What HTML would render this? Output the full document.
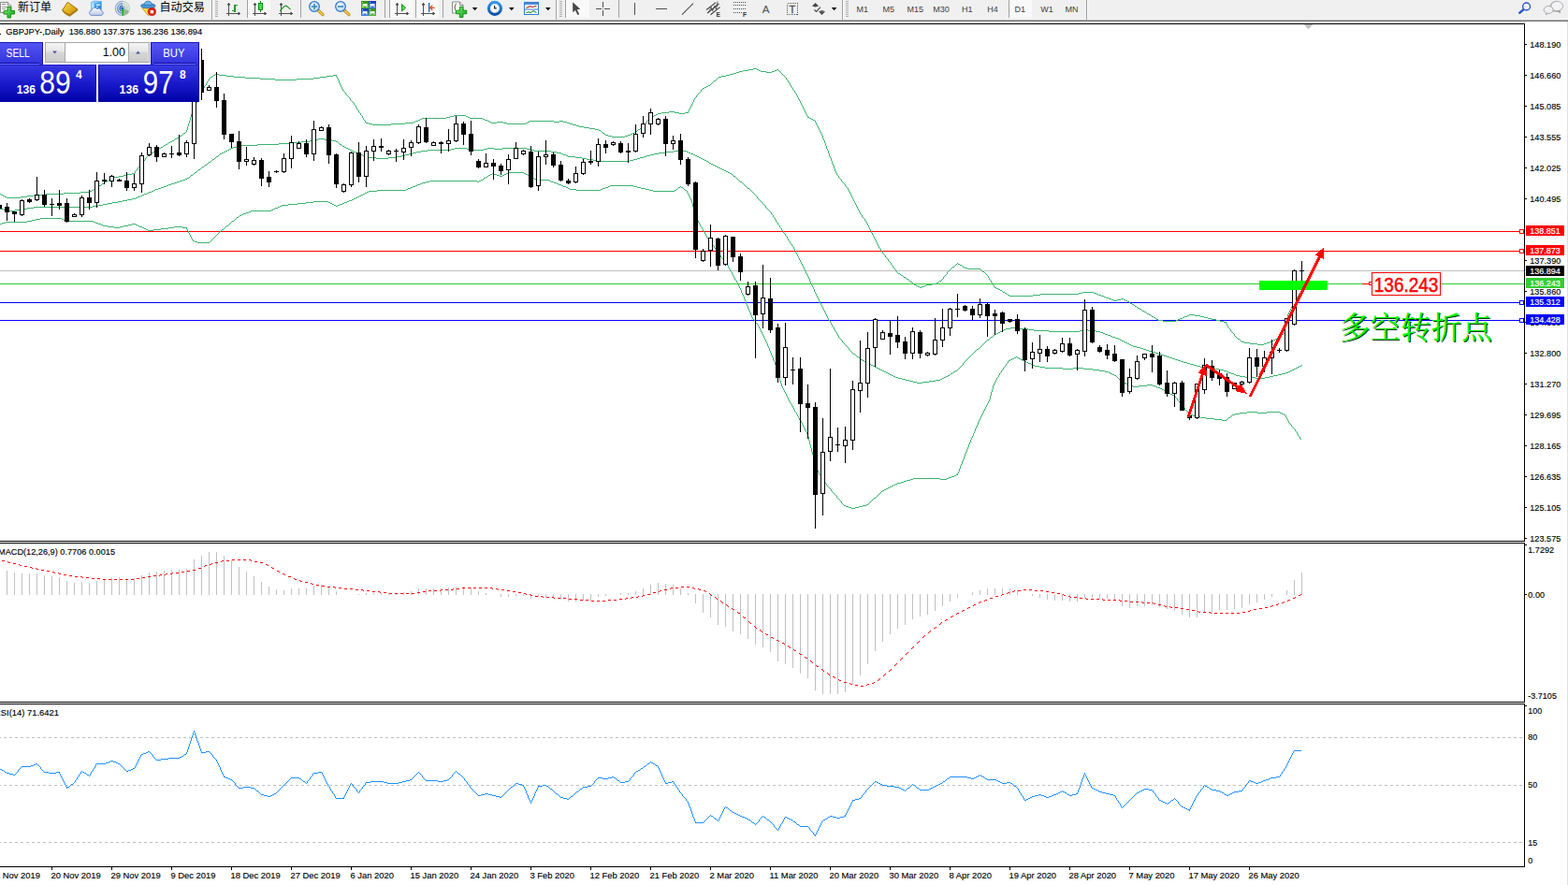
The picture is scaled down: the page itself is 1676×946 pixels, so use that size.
<!DOCTYPE html>
<html><head><meta charset="utf-8"><title>GBPJPY Daily</title>
<style>html,body{margin:0;padding:0;background:#fff;overflow:hidden}svg{display:block}</style></head>
<body>
<svg width="1676" height="946" viewBox="0 0 1676 946" font-family="'Liberation Sans', sans-serif">
<defs>
<linearGradient id="gTab" x1="0" y1="0" x2="0" y2="1"><stop offset="0" stop-color="#5656f6"/><stop offset="1" stop-color="#3232da"/></linearGradient>
<linearGradient id="gBig" x1="0" y1="0" x2="0" y2="1"><stop offset="0" stop-color="#3a3ae2"/><stop offset="0.5" stop-color="#1a1acc"/><stop offset="1" stop-color="#0000a6"/></linearGradient>
<linearGradient id="gBtn" x1="0" y1="0" x2="0" y2="1"><stop offset="0" stop-color="#f4f4f4"/><stop offset="0.45" stop-color="#e6e6e6"/><stop offset="0.5" stop-color="#d6d6d6"/><stop offset="1" stop-color="#cccccc"/></linearGradient>
<clipPath id="cMain"><rect x="0" y="26" width="1629" height="552"/></clipPath>
<clipPath id="cMacd"><rect x="0" y="581" width="1629" height="169"/></clipPath>
<clipPath id="cRsi"><rect x="0" y="753" width="1629" height="173"/></clipPath>
</defs>
<rect x="0" y="0" width="1676" height="946" fill="#fff"/>
<g shape-rendering="crispEdges">
<g clip-path="url(#cMain)">
<rect x="0" y="247" width="1629" height="1" fill="#ff0000"/>
<rect x="0" y="268" width="1629" height="1" fill="#ff0000"/>
<rect x="0" y="289" width="1629" height="1" fill="#c0c0c0"/>
<rect x="0" y="303" width="1629" height="1" fill="#32cd32"/>
<rect x="0" y="323" width="1629" height="1" fill="#0000ff"/>
<rect x="0" y="342" width="1629" height="1" fill="#0000ff"/>
<path d="M0 207.5h1M1 208.5h2M3 209.5h2M5 210.5h2M7 211.5h15M22 210.5h7M29 209.5h7M36 208.5h13M49 207.5h19M68 206.5h18M86 205.5h10M96 204.5h2M98 203.5h2M100 202.5h1M101 201.5h2M103 200.5h1M104 199.5h2M106 198.5h2M108 197.5h1M109 196.5h2M111 195.5h1M112 194.5h2M114 193.5h2M116 192.5h1M117 191.5h2M119 190.5h3M122 189.5h5M127 188.5h5M132 187.5h4M136 186.5h5M141 185.5h3M144.5 183v2M145 182.5h1M146 181.5h1M147.5 179v2M148 178.5h1M149 177.5h1M150.5 175v2M151 174.5h1M152 173.5h1M153 172.5h1M154 171.5h1M155.5 169v2M156 168.5h1M157 167.5h1M158 166.5h1M159 165.5h1M160 164.5h2M162 163.5h2M164 162.5h1M165 161.5h2M167 160.5h1M168 159.5h2M170 158.5h2M172 157.5h2M174 156.5h1M175 155.5h2M177 154.5h2M179 153.5h1M180 152.5h2M182 151.5h2M184 150.5h2M186 149.5h1M187 148.5h2M189 147.5h2M191 146.5h1M192 145.5h2M194 144.5h1M195 143.5h1M196 142.5h2M198 141.5h1M199.5 139v2M200.5 135v4M201.5 132v3M202.5 129v3M203.5 125v4M204.5 122v3M205.5 119v3M206.5 117v2M207.5 114v3M208.5 112v2M209.5 110v2M210.5 107v3M211.5 105v2M212.5 102v3M213.5 100v2M214.5 98v2M215.5 96v2M216 95.5h1M217 94.5h1M218.5 92v2M219 91.5h1M220.5 89v2M221.5 87v2M222 86.5h1M223.5 84v2M224 83.5h1M225 82.5h2M227 81.5h1M228 80.5h2M230 79.5h4M234 80.5h8M242 81.5h8M250 82.5h12M262 83.5h16M278 84.5h16M294 85.5h23M317 84.5h18M335 83.5h7M342 82.5h7M349 81.5h7M356 80.5h4M359 81.5h1M360.5 82v2M361.5 84v2M362.5 86v3M363.5 89v2M364.5 91v2M365.5 93v2M366.5 95v2M367 97.5h1M368 98.5h1M369.5 99v2M370 101.5h1M371 102.5h1M372 103.5h1M373 104.5h1M374.5 105v2M375 107.5h1M376 108.5h1M377 109.5h1M378.5 110v2M379 112.5h1M380.5 113v2M381.5 115v2M382 117.5h1M383.5 118v2M384 120.5h1M385.5 121v2M386 123.5h1M387.5 124v2M388.5 126v2M389 128.5h1M390.5 129v2M391 131.5h3M394 132.5h4M398 133.5h20M418 132.5h15M433 131.5h9M442 130.5h2M444 129.5h3M447 128.5h2M449 127.5h2M451 126.5h26M477 125.5h4M481 124.5h4M485 123.5h13M498 124.5h2M500 125.5h2M502 126.5h14M516 127.5h2M518 128.5h3M521 129.5h2M523 130.5h2M525 131.5h6M531 130.5h7M538 131.5h4M542 132.5h20M562 131.5h2M564 130.5h2M566 129.5h26M592 130.5h6M598 129.5h4M602 130.5h4M606 131.5h3M609 132.5h3M612 133.5h4M616 134.5h3M619 135.5h5M624 136.5h6M630 137.5h6M636 138.5h4M640 139.5h2M642 140.5h1M643 141.5h1M644 142.5h2M646 143.5h1M647 144.5h3M650 145.5h4M654 146.5h14M668 145.5h3M671 144.5h3M674 143.5h2M676 142.5h2M678 141.5h2M680 140.5h1M681 139.5h1M682 138.5h2M684 137.5h1M685 136.5h1M686 135.5h1M687 134.5h1M688 133.5h1M689 132.5h1M690 131.5h1M691.5 129v2M692 128.5h1M693 127.5h1M694 126.5h1M695 125.5h2M697 124.5h2M699 123.5h2M701 122.5h2M703 121.5h4M707 120.5h8M715 119.5h6M721 120.5h5M726 121.5h6M732 120.5h4M735 119.5h1M736.5 117v2M737.5 115v2M738.5 113v2M739.5 111v2M740.5 109v2M741.5 107v2M742.5 105v2M743 104.5h1M744.5 102v2M745 101.5h1M746 100.5h1M747 99.5h1M748 98.5h1M749.5 96v2M750 95.5h1M751 94.5h2M753 93.5h2M755 92.5h2M757 91.5h2M759 90.5h1M760 89.5h1M761 88.5h1M762 87.5h1M763 86.5h2M765 85.5h1M766 84.5h1M767 83.5h1M768 82.5h3M771 81.5h5M776 80.5h4M780 79.5h4M784 78.5h3M787 77.5h3M790 76.5h4M794 75.5h6M800 74.5h5M805 73.5h4M809 74.5h2M811 75.5h2M813 76.5h6M819 77.5h6M825 76.5h3M828 75.5h2M830 74.5h2M832 75.5h1M833 76.5h1M834 77.5h1M835 78.5h1M836 79.5h1M837 80.5h1M838 81.5h1M839 82.5h1M840.5 83v2M841 85.5h1M842.5 86v2M843 88.5h1M844.5 89v2M845.5 91v2M846 93.5h1M847.5 94v2M848 96.5h1M849.5 97v2M850 99.5h1M851.5 100v2M852.5 102v2M853.5 104v2M854.5 106v2M855.5 108v2M856.5 110v2M857.5 112v2M858.5 114v2M859.5 116v2M860.5 118v2M861.5 120v2M862.5 122v2M863.5 124v2M864 125.5h1M865 126.5h2M867 127.5h2M869 128.5h2M871.5 129v2M872.5 131v2M873.5 133v2M874.5 135v2M875.5 137v2M876.5 139v2M877.5 141v2M878.5 143v2M879.5 145v3M880.5 148v2M881.5 150v3M882.5 153v3M883.5 156v3M884.5 159v2M885.5 161v3M886.5 164v3M887.5 167v2M888.5 169v3M889.5 172v3M890.5 175v2M891.5 177v3M892.5 180v3M893.5 183v2M894.5 185v2M895 187.5h1M896.5 188v2M897 190.5h1M898 191.5h1M899.5 192v2M900 194.5h1M901 195.5h1M902 196.5h1M903.5 197v2M904 199.5h1M905 200.5h1M906.5 201v2M907.5 203v2M908.5 205v2M909.5 207v2M910.5 209v2M911.5 211v2M912.5 213v2M913.5 215v2M914.5 217v2M915.5 219v2M916.5 221v2M917.5 223v2M918.5 225v2M919.5 227v2M920 229.5h1M921.5 230v2M922 232.5h1M923 233.5h1M924.5 234v2M925 236.5h1M926.5 237v2M927.5 239v2M928.5 241v2M929.5 243v2M930.5 245v2M931.5 247v2M932.5 249v2M933.5 251v2M934.5 253v2M935.5 255v2M936.5 257v2M937.5 259v2M938.5 261v2M939.5 263v2M940 265.5h1M941.5 266v2M942 268.5h1M943.5 269v2M944 271.5h1M945 272.5h1M946.5 273v2M947 275.5h1M948 276.5h1M949.5 277v2M950 279.5h1M951 280.5h1M952.5 281v2M953 283.5h1M954.5 284v2M955 286.5h1M956 287.5h1M957.5 288v2M958 290.5h1M959 291.5h1M960 292.5h2M962 293.5h1M963 294.5h2M965 295.5h1M966 296.5h2M968 297.5h1M969 298.5h2M971 299.5h1M972 300.5h1M973 301.5h2M975 302.5h1M976 303.5h1M977 304.5h2M979 305.5h2M981 306.5h2M983 307.5h2M985 306.5h3M988 305.5h2M990 304.5h6M996 303.5h5M1001 302.5h2M1003 301.5h1M1004 300.5h2M1006 299.5h1M1007 298.5h1M1008.5 296v2M1009 295.5h1M1010 294.5h1M1011 293.5h1M1012.5 291v2M1013 290.5h1M1014 289.5h1M1015 288.5h1M1016 287.5h1M1017 286.5h1M1018 285.5h2M1020 284.5h1M1021 283.5h1M1022 282.5h1M1023 281.5h1M1024 282.5h2M1026 283.5h2M1028 284.5h1M1029 285.5h2M1031 286.5h3M1034 287.5h14M1048 288.5h1M1049 289.5h1M1050 290.5h2M1052 291.5h1M1053 292.5h1M1054 293.5h1M1055 294.5h1M1056.5 295v2M1057.5 297v2M1058 299.5h1M1059.5 300v2M1060 302.5h1M1061.5 303v2M1062.5 305v2M1063 307.5h2M1065 308.5h2M1067 309.5h2M1069 310.5h2M1071 311.5h1M1072 312.5h2M1074 313.5h2M1076 314.5h1M1077 315.5h2M1079 316.5h25M1104 315.5h8M1112 314.5h41M1153 313.5h4M1157 312.5h12M1169 313.5h3M1172 314.5h2M1174 315.5h3M1177 316.5h3M1180 317.5h2M1182 318.5h3M1185 319.5h3M1188 320.5h2M1190 321.5h4M1194 320.5h4M1198 319.5h3M1201 320.5h2M1203 321.5h2M1205 322.5h2M1207 323.5h1M1208 324.5h2M1210 325.5h2M1212 326.5h1M1213 327.5h2M1215 328.5h1M1216 329.5h2M1218 330.5h2M1220 331.5h1M1221 332.5h2M1223 333.5h2M1225 334.5h1M1226 335.5h2M1228 336.5h2M1230 337.5h1M1231 338.5h2M1233 339.5h2M1235 340.5h1M1236 341.5h2M1238 342.5h5M1243 343.5h14M1257 342.5h2M1259 341.5h2M1261 340.5h3M1264 339.5h2M1266 338.5h3M1269 337.5h2M1271 336.5h6M1277 337.5h6M1283 338.5h4M1287 339.5h4M1291 340.5h4M1295 341.5h5M1300 342.5h4M1304 343.5h4M1308 344.5h3M1310 345.5h1M1311.5 346v2M1312.5 348v2M1313 350.5h1M1314 351.5h1M1315.5 352v2M1316 354.5h1M1317 355.5h1M1318 356.5h1M1319.5 357v2M1320 359.5h1M1321 360.5h1M1322 361.5h1M1323 362.5h2M1325 363.5h1M1326 364.5h1M1327 365.5h3M1330 366.5h6M1336 367.5h8M1344 368.5h7M1351 367.5h3M1354 366.5h3M1357 365.5h2M1359 364.5h2M1361 363.5h2M1363 362.5h2M1365 361.5h1M1366 360.5h2M1368 359.5h1M1369 358.5h1M1370 357.5h2M1372 356.5h1M1373.5 352v4M1374.5 346v6M1375.5 340v6M1376.5 336v4M1377.5 334v2M1378.5 332v2M1379.5 330v2M1380.5 328v2M1381.5 326v2M1382.5 324v2M1383.5 322v2M1384.5 320v2M1385 319.5h1M1386.5 317v2M1387 316.5h1M1388.5 314v2M1389 313.5h1M1390.5 311v2M1391 310.5h1" stroke="#3cb371" stroke-width="1" fill="none"/>
<path d="M0 223.5h4M4 224.5h6M10 225.5h6M16 224.5h7M23 223.5h6M29 222.5h7M36 221.5h63M99 220.5h6M105 219.5h5M110 218.5h5M115 217.5h5M120 216.5h6M126 215.5h5M131 214.5h5M136 213.5h5M141 212.5h4M145 211.5h2M147 210.5h3M150 209.5h2M152 208.5h2M154 207.5h3M157 206.5h2M159 205.5h3M162 204.5h2M164 203.5h2M166 202.5h3M169 201.5h3M172 200.5h3M175 199.5h3M178 198.5h2M180 197.5h3M183 196.5h3M186 195.5h3M189 194.5h3M192 193.5h3M195 192.5h3M198 191.5h2M200 190.5h2M202 189.5h1M203 188.5h1M204 187.5h2M206 186.5h1M207 185.5h1M208 184.5h2M210 183.5h1M211 182.5h1M212 181.5h2M214 180.5h1M215 179.5h1M216 178.5h2M218 177.5h1M219 176.5h2M221 175.5h1M222 174.5h1M223 173.5h2M225 172.5h1M226 171.5h1M227 170.5h2M229 169.5h1M230 168.5h1M231 167.5h2M233 166.5h1M234 165.5h1M235 164.5h2M237 163.5h2M239 162.5h2M241 161.5h2M243 160.5h2M245 159.5h2M247 158.5h2M249 157.5h4M253 156.5h4M257 155.5h18M275 154.5h23M298 153.5h12M310 152.5h12M322 151.5h9M331 150.5h5M336 149.5h4M340 148.5h7M347 149.5h8M355 150.5h4M359 151.5h2M361 152.5h1M362 153.5h1M363 154.5h2M365 155.5h1M366 156.5h2M368 157.5h2M370 158.5h2M372 159.5h2M374 160.5h2M376 161.5h2M378 162.5h2M380 163.5h2M382 164.5h3M385 165.5h3M388 166.5h2M390 167.5h3M393 168.5h9M402 169.5h13M415 168.5h9M424 167.5h5M429 166.5h4M433 165.5h4M437 164.5h4M441 163.5h4M445 162.5h5M450 161.5h7M457 160.5h25M482 159.5h4M486 158.5h13M499 159.5h2M501 160.5h16M517 159.5h4M521 158.5h7M528 159.5h9M537 158.5h26M563 159.5h4M567 160.5h4M571 161.5h18M589 162.5h6M595 163.5h5M600 164.5h2M602 165.5h3M605 166.5h2M607 167.5h8M615 168.5h7M622 169.5h5M627 170.5h7M634 171.5h7M641 172.5h32M673 171.5h4M677 170.5h4M681 169.5h3M684 168.5h4M688 167.5h3M691 166.5h4M695 165.5h4M699 164.5h5M704 163.5h8M712 162.5h8M720 161.5h14M734 162.5h2M736 163.5h2M738 164.5h3M741 165.5h2M743 166.5h2M745 167.5h2M747 168.5h2M749 169.5h2M751 170.5h2M753 171.5h2M755 172.5h2M757 173.5h1M758 174.5h2M760 175.5h2M762 176.5h2M764 177.5h2M766 178.5h2M768 179.5h2M770 180.5h2M772 181.5h2M774 182.5h2M776 183.5h2M778 184.5h2M780 185.5h2M782 186.5h1M783 187.5h1M784 188.5h2M786 189.5h1M787 190.5h1M788 191.5h1M789 192.5h1M790 193.5h1M791 194.5h2M793 195.5h1M794 196.5h1M795 197.5h1M796 198.5h1M797 199.5h1M798 200.5h1M799 201.5h2M801 202.5h1M802 203.5h1M803 204.5h1M804 205.5h1M805 206.5h1M806 207.5h1M807 208.5h1M808 209.5h1M809.5 210v2M810 212.5h1M811 213.5h1M812 214.5h1M813 215.5h1M814 216.5h1M815 217.5h1M816 218.5h1M817 219.5h1M818.5 220v2M819 222.5h1M820 223.5h1M821 224.5h1M822 225.5h1M823 226.5h1M824.5 227v2M825 229.5h1M826.5 230v2M827 232.5h1M828.5 233v2M829.5 235v2M830 237.5h1M831.5 238v2M832 240.5h1M833.5 241v2M834 243.5h1M835.5 244v2M836 246.5h1M837.5 247v2M838 249.5h1M839.5 250v2M840 252.5h1M841.5 253v2M842.5 255v2M843 257.5h1M844.5 258v2M845 260.5h1M846.5 261v2M847 263.5h1M848.5 264v2M849.5 266v2M850.5 268v2M851.5 270v2M852.5 272v2M853.5 274v2M854.5 276v2M855.5 278v2M856.5 280v2M857.5 282v2M858.5 284v2M859.5 286v2M860.5 288v2M861.5 290v2M862.5 292v2M863.5 294v2M864.5 296v2M865.5 298v3M866.5 301v2M867.5 303v2M868.5 305v2M869.5 307v2M870.5 309v3M871.5 312v2M872.5 314v2M873.5 316v2M874.5 318v2M875.5 320v2M876.5 322v2M877.5 324v2M878.5 326v2M879.5 328v2M880.5 330v2M881.5 332v2M882.5 334v2M883.5 336v2M884.5 338v2M885.5 340v2M886 342.5h1M887.5 343v2M888.5 345v2M889.5 347v2M890 349.5h1M891.5 350v2M892.5 352v2M893 354.5h1M894.5 355v2M895.5 357v2M896.5 359v2M897 361.5h1M898 362.5h1M899 363.5h1M900.5 364v2M901 366.5h1M902 367.5h1M903 368.5h1M904 369.5h1M905 370.5h1M906 371.5h1M907.5 372v2M908 374.5h1M909 375.5h1M910 376.5h1M911 377.5h1M912 378.5h2M914 379.5h1M915 380.5h1M916 381.5h2M918 382.5h1M919 383.5h1M920 384.5h2M922 385.5h2M924 386.5h2M926 387.5h2M928 388.5h1M929 389.5h2M931 390.5h2M933 391.5h2M935 392.5h2M937 393.5h2M939 394.5h2M941 395.5h2M943 396.5h2M945 397.5h2M947 398.5h2M949 399.5h2M951 400.5h2M953 401.5h2M955 402.5h2M957 403.5h3M960 404.5h4M964 405.5h4M968 406.5h4M972 407.5h4M976 408.5h4M980 409.5h6M986 408.5h7M993 407.5h7M1000 406.5h5M1005 405.5h2M1007 404.5h2M1009 403.5h2M1011 402.5h2M1013 401.5h2M1015 400.5h1M1016 399.5h2M1018 398.5h1M1019 397.5h2M1021 396.5h2M1023 395.5h1M1024 394.5h1M1025 393.5h1M1026 392.5h1M1027 391.5h1M1028 390.5h1M1029.5 388v2M1030 387.5h1M1031 386.5h1M1032 385.5h1M1033 384.5h1M1034 383.5h1M1035 382.5h1M1036 381.5h1M1037 380.5h1M1038 379.5h1M1039 378.5h1M1040 377.5h1M1041 376.5h1M1042 375.5h1M1043 374.5h1M1044 373.5h2M1046 372.5h1M1047 371.5h1M1048 370.5h1M1049 369.5h1M1050 368.5h1M1051 367.5h1M1052 366.5h1M1053 365.5h1M1054 364.5h1M1055 363.5h2M1057 362.5h1M1058 361.5h1M1059 360.5h2M1061 359.5h1M1062 358.5h1M1063 357.5h2M1065 356.5h2M1067 355.5h2M1069 354.5h2M1071 353.5h2M1073 352.5h2M1075 351.5h5M1080 350.5h10M1090 351.5h9M1099 352.5h6M1105 353.5h16M1121 354.5h33M1154 353.5h4M1158 352.5h5M1163 353.5h8M1171 354.5h5M1176 355.5h3M1179 356.5h2M1181 357.5h3M1184 358.5h3M1187 359.5h2M1189 360.5h3M1192 361.5h3M1195 362.5h2M1197 363.5h2M1199 364.5h2M1201 365.5h2M1203 366.5h2M1205 367.5h2M1207 368.5h2M1209 369.5h2M1211 370.5h4M1215 371.5h4M1219 372.5h3M1222 373.5h3M1225 374.5h3M1228 375.5h4M1232 376.5h3M1235 377.5h3M1238 378.5h3M1241 379.5h3M1244 380.5h3M1247 381.5h3M1250 382.5h3M1253 383.5h3M1256 384.5h3M1259 385.5h3M1262 386.5h3M1265 387.5h4M1269 388.5h3M1272 389.5h4M1276 390.5h3M1279 391.5h4M1283 392.5h5M1288 393.5h8M1296 394.5h7M1303 395.5h5M1308 396.5h3M1311 397.5h2M1313 398.5h3M1316 399.5h3M1319 400.5h2M1321 401.5h4M1325 402.5h6M1331 403.5h11M1342 404.5h10M1352 403.5h5M1357 402.5h4M1361 401.5h5M1366 400.5h4M1370 399.5h4M1374 398.5h3M1377 397.5h2M1379 396.5h2M1381 395.5h2M1383 394.5h2M1385 393.5h2M1387 392.5h2M1389 391.5h2M1391 390.5h1" stroke="#3cb371" stroke-width="1" fill="none"/>
<path d="M0 239.5h2M2 238.5h4M6 237.5h23M29 236.5h5M34 235.5h4M38 234.5h5M43 233.5h23M66 234.5h2M68 235.5h2M70 236.5h30M100 237.5h2M102 238.5h3M105 239.5h3M108 240.5h2M110 241.5h5M115 242.5h7M122 243.5h6M128 242.5h4M132 241.5h5M137 240.5h4M141 239.5h4M145 240.5h2M147 241.5h2M149 242.5h3M152 243.5h2M154 244.5h2M156 245.5h2M158 246.5h6M164 245.5h8M172 244.5h8M180 243.5h6M186 242.5h9M195 243.5h5M199 244.5h1M200.5 245v2M201.5 247v2M202.5 249v2M203.5 251v2M204.5 253v2M205.5 255v2M206 257.5h2M208 258.5h3M211 259.5h13M224 258.5h1M225 257.5h1M226 256.5h1M227 255.5h1M228 254.5h1M229 253.5h1M230 252.5h1M231 251.5h1M232 250.5h1M233 249.5h1M234 248.5h1M235 247.5h1M236 246.5h1M237 245.5h2M239 244.5h1M240 243.5h1M241 242.5h1M242 241.5h2M244 240.5h1M245 239.5h1M246 238.5h1M247 237.5h1M248 236.5h2M250 235.5h1M251 234.5h1M252 233.5h1M253 232.5h2M255 231.5h1M256 230.5h2M258 229.5h2M260 228.5h3M263 227.5h3M266 226.5h2M268 225.5h22M290 224.5h2M292 223.5h2M294 222.5h3M297 221.5h2M299 220.5h2M301 219.5h7M308 218.5h10M318 217.5h9M327 216.5h8M335 215.5h16M351 216.5h2M353 217.5h2M355 218.5h2M357 219.5h2M359 220.5h2M361 219.5h2M363 218.5h3M366 217.5h2M368 216.5h3M371 215.5h2M373 214.5h3M376 213.5h2M378 212.5h2M380 211.5h2M382 210.5h2M384 209.5h2M386 208.5h2M388 207.5h2M390 206.5h2M392 205.5h2M394 204.5h9M403 203.5h31M434 202.5h2M436 201.5h3M439 200.5h2M441 199.5h3M444 198.5h2M446 197.5h3M449 196.5h2M451 195.5h4M455 194.5h4M459 193.5h51M510 194.5h2M512 193.5h2M514 192.5h2M516 191.5h1M517 190.5h2M519 189.5h2M521 188.5h1M522 187.5h2M524 186.5h2M526 185.5h2M528 186.5h3M531 187.5h3M534 188.5h3M537 187.5h2M539 186.5h2M541 185.5h2M543 184.5h17M560 185.5h2M562 186.5h2M564 187.5h2M566 188.5h1M567 189.5h2M569 190.5h2M571 191.5h2M573 192.5h14M587 193.5h2M589 194.5h3M592 195.5h3M595 196.5h2M597 197.5h3M600 198.5h2M602 199.5h3M605 200.5h2M607 201.5h2M609 202.5h7M616 203.5h26M642 202.5h2M644 201.5h3M647 200.5h3M650 199.5h2M652 198.5h25M677 199.5h4M681 200.5h4M685 201.5h5M690 202.5h4M694 203.5h4M698 204.5h23M721 203.5h2M723 202.5h1M724 201.5h1M725 200.5h2M727 199.5h1M728 200.5h2M730 201.5h1M731 202.5h1M732 203.5h2M734.5 204v2M735.5 206v2M736.5 208v2M737.5 210v2M738.5 212v2M739.5 214v3M740.5 217v4M741.5 221v3M742.5 224v3M743.5 227v4M744.5 231v3M745.5 234v2M746.5 236v2M747.5 238v2M748.5 240v2M749 242.5h1M750.5 243v2M751.5 245v2M752 247.5h1M753.5 248v2M754.5 250v2M755.5 252v2M756 254.5h1M757.5 255v2M758 257.5h1M759 258.5h1M760.5 259v2M761 261.5h1M762 262.5h1M763.5 263v2M764 265.5h1M765.5 266v2M766 268.5h1M767 269.5h1M768.5 270v2M769 272.5h1M770.5 273v2M771 275.5h1M772 276.5h1M773.5 277v2M774 279.5h1M775 280.5h1M776.5 281v2M777 283.5h1M778.5 284v2M779.5 286v2M780.5 288v2M781 290.5h1M782.5 291v2M783.5 293v2M784.5 295v2M785.5 297v2M786 299.5h1M787.5 300v2M788.5 302v2M789.5 304v2M790.5 306v2M791.5 308v2M792.5 310v3M793.5 313v2M794.5 315v2M795.5 317v3M796.5 320v2M797.5 322v3M798.5 325v2M799.5 327v3M800.5 330v2M801.5 332v2M802.5 334v3M803.5 337v2M804.5 339v2M805 341.5h1M806 342.5h1M807.5 343v2M808 345.5h1M809 346.5h1M810.5 347v2M811.5 349v2M812.5 351v2M813.5 353v2M814.5 355v2M815.5 357v2M816.5 359v2M817.5 361v2M818.5 363v2M819.5 365v2M820.5 367v3M821.5 370v2M822.5 372v3M823.5 375v2M824.5 377v3M825.5 380v2M826.5 382v3M827.5 385v2M828.5 387v3M829.5 390v3M830.5 393v4M831.5 397v3M832.5 400v3M833.5 403v4M834.5 407v3M835.5 410v3M836.5 413v2M837.5 415v2M838.5 417v2M839.5 419v2M840.5 421v2M841.5 423v2M842.5 425v2M843.5 427v2M844.5 429v2M845 431.5h1M846.5 432v2M847.5 434v2M848.5 436v2M849.5 438v2M850 440.5h1M851.5 441v2M852.5 443v2M853.5 445v2M854.5 447v2M855 449.5h1M856.5 450v2M857.5 452v2M858.5 454v2M859.5 456v2M860.5 458v2M861.5 460v2M862.5 462v2M863.5 464v3M864.5 467v4M865.5 471v4M866.5 475v4M867.5 479v4M868.5 483v3M869.5 486v4M870.5 490v4M871.5 494v3M872.5 497v4M873.5 501v2M874.5 503v2M875.5 505v2M876 507.5h1M877.5 508v2M878 510.5h1M879.5 511v2M880.5 513v2M881 515.5h1M882 516.5h1M883.5 517v2M884 519.5h1M885 520.5h1M886 521.5h1M887 522.5h1M888.5 523v2M889 525.5h1M890 526.5h1M891 527.5h1M892 528.5h1M893 529.5h1M894.5 530v2M895 532.5h1M896 533.5h1M897 534.5h1M898 535.5h1M899.5 536v2M900 538.5h1M901 539.5h1M902 540.5h2M904 541.5h3M907 542.5h3M910 543.5h4M914 542.5h4M918 541.5h4M922 540.5h4M926 539.5h2M928 538.5h1M929 537.5h1M930 536.5h1M931 535.5h1M932 534.5h1M933 533.5h1M934 532.5h2M936 531.5h1M937 530.5h1M938 529.5h1M939 528.5h1M940 527.5h1M941 526.5h1M942 525.5h1M943 524.5h2M945 523.5h2M947 522.5h2M949 521.5h2M951 520.5h2M953 519.5h2M955 518.5h2M957 517.5h2M959 516.5h4M963 515.5h3M966 514.5h3M969 513.5h4M973 512.5h3M976 511.5h29M1005 512.5h7M1012 511.5h2M1014 510.5h3M1017 509.5h3M1020 508.5h2M1022 507.5h2M1023 506.5h1M1024.5 504v2M1025.5 501v3M1026.5 498v3M1027.5 496v2M1028.5 493v3M1029.5 491v2M1030.5 488v3M1031.5 485v3M1032.5 483v2M1033.5 480v3M1034.5 478v2M1035.5 475v3M1036.5 473v2M1037.5 470v3M1038.5 468v2M1039.5 466v2M1040.5 463v3M1041.5 461v2M1042.5 458v3M1043.5 456v2M1044.5 454v2M1045.5 451v3M1046.5 449v2M1047.5 447v2M1048.5 445v2M1049.5 443v2M1050.5 441v2M1051.5 439v2M1052.5 437v2M1053.5 435v2M1054.5 433v2M1055.5 431v2M1056.5 429v2M1057.5 427v2M1058.5 423v4M1059.5 419v4M1060.5 416v3M1061.5 412v4M1062.5 410v2M1063.5 408v2M1064.5 406v2M1065.5 404v2M1066 403.5h1M1067.5 401v2M1068.5 399v2M1069 398.5h1M1070.5 396v2M1071 395.5h1M1072.5 393v2M1073 392.5h1M1074 391.5h1M1075.5 389v2M1076 388.5h1M1077.5 386v2M1078 385.5h2M1080 384.5h2M1082 383.5h2M1084 382.5h2M1086 381.5h1M1087 382.5h2M1089 383.5h2M1091 384.5h2M1093 385.5h2M1095 386.5h2M1097 387.5h2M1099 388.5h3M1102 389.5h2M1104 390.5h2M1106 391.5h5M1111 392.5h6M1117 393.5h19M1136 394.5h11M1147 393.5h11M1158 394.5h10M1168 395.5h7M1175 396.5h6M1181 397.5h4M1185 398.5h2M1187 399.5h2M1189 400.5h2M1191 401.5h2M1193 402.5h1M1194 403.5h1M1195 404.5h1M1196 405.5h2M1198 406.5h1M1199 407.5h1M1200 408.5h2M1202 409.5h2M1204 410.5h3M1207 411.5h2M1209 412.5h2M1211 413.5h6M1217 412.5h9M1226 411.5h6M1232 412.5h3M1235 413.5h2M1237 414.5h3M1240 415.5h2M1242 416.5h2M1244 417.5h2M1246 418.5h2M1248 419.5h1M1249 420.5h2M1251 421.5h2M1253 422.5h2M1255 423.5h1M1256 424.5h1M1257 425.5h1M1258.5 426v2M1259 428.5h1M1260 429.5h1M1261 430.5h1M1262 431.5h1M1263.5 432v2M1264 434.5h1M1265 435.5h1M1266.5 436v2M1267 438.5h1M1268 439.5h1M1269 440.5h1M1270 441.5h2M1272 442.5h1M1273 443.5h2M1275 444.5h4M1279 445.5h4M1283 446.5h6M1289 447.5h9M1298 448.5h8M1306 449.5h5M1311 448.5h1M1312 447.5h1M1313 446.5h2M1315 445.5h1M1316 444.5h1M1317 443.5h3M1320 442.5h5M1325 441.5h8M1333 440.5h11M1344 441.5h10M1354 440.5h14M1368 441.5h2M1370 442.5h2M1372 443.5h2M1374.5 444v2M1375.5 446v2M1376.5 448v2M1377.5 450v2M1378 452.5h1M1379 453.5h1M1380.5 454v2M1381 456.5h1M1382 457.5h1M1383 458.5h1M1384.5 459v2M1385 461.5h1M1386.5 462v2M1387.5 464v2M1388 466.5h1M1389.5 467v2M1390 469.5h1" stroke="#3cb371" stroke-width="1" fill="none"/>
<rect x="-1" y="215" width="1" height="11" fill="#000"/>
<rect x="-3" y="219" width="5" height="4" fill="#000"/>
<rect x="7" y="217" width="1" height="19" fill="#000"/>
<rect x="5" y="221" width="5" height="6" fill="#000"/>
<rect x="15" y="226" width="1" height="11" fill="#000"/>
<rect x="13" y="226" width="5" height="3" fill="#000"/>
<rect x="23" y="213" width="1" height="18" fill="#000"/>
<rect x="21" y="214" width="5" height="16" fill="#000"/>
<rect x="22" y="215" width="3" height="14" fill="#fff"/>
<rect x="31" y="212" width="1" height="5" fill="#000"/>
<rect x="29" y="213" width="5" height="3" fill="#000"/>
<rect x="39" y="189" width="1" height="26" fill="#000"/>
<rect x="37" y="208" width="5" height="6" fill="#000"/>
<rect x="38" y="209" width="3" height="4" fill="#fff"/>
<rect x="47" y="203" width="1" height="18" fill="#000"/>
<rect x="45" y="208" width="5" height="11" fill="#000"/>
<rect x="55" y="212" width="1" height="19" fill="#000"/>
<rect x="53" y="218" width="5" height="1" fill="#000"/>
<rect x="63" y="203" width="1" height="21" fill="#000"/>
<rect x="61" y="217" width="5" height="3" fill="#000"/>
<rect x="71" y="212" width="1" height="26" fill="#000"/>
<rect x="69" y="217" width="5" height="20" fill="#000"/>
<rect x="79" y="228" width="1" height="4" fill="#000"/>
<rect x="77" y="229" width="5" height="3" fill="#000"/>
<rect x="78" y="230" width="3" height="1" fill="#fff"/>
<rect x="87" y="209" width="1" height="23" fill="#000"/>
<rect x="85" y="211" width="5" height="19" fill="#000"/>
<rect x="86" y="212" width="3" height="17" fill="#fff"/>
<rect x="95" y="203" width="1" height="21" fill="#000"/>
<rect x="93" y="211" width="5" height="6" fill="#000"/>
<rect x="103" y="184" width="1" height="38" fill="#000"/>
<rect x="101" y="193" width="5" height="24" fill="#000"/>
<rect x="102" y="194" width="3" height="22" fill="#fff"/>
<rect x="111" y="185" width="1" height="12" fill="#000"/>
<rect x="109" y="192" width="5" height="2" fill="#000"/>
<rect x="119" y="187" width="1" height="13" fill="#000"/>
<rect x="117" y="188" width="5" height="6" fill="#000"/>
<rect x="118" y="189" width="3" height="4" fill="#fff"/>
<rect x="127" y="191" width="1" height="3" fill="#000"/>
<rect x="125" y="192" width="5" height="2" fill="#000"/>
<rect x="135" y="184" width="1" height="20" fill="#000"/>
<rect x="133" y="193" width="5" height="8" fill="#000"/>
<rect x="143" y="186" width="1" height="18" fill="#000"/>
<rect x="141" y="196" width="5" height="5" fill="#000"/>
<rect x="142" y="197" width="3" height="3" fill="#fff"/>
<rect x="151" y="163" width="1" height="43" fill="#000"/>
<rect x="149" y="166" width="5" height="31" fill="#000"/>
<rect x="150" y="167" width="3" height="29" fill="#fff"/>
<rect x="159" y="153" width="1" height="14" fill="#000"/>
<rect x="157" y="157" width="5" height="9" fill="#000"/>
<rect x="158" y="158" width="3" height="7" fill="#fff"/>
<rect x="167" y="155" width="1" height="18" fill="#000"/>
<rect x="165" y="157" width="5" height="11" fill="#000"/>
<rect x="175" y="163" width="1" height="5" fill="#000"/>
<rect x="173" y="164" width="5" height="4" fill="#000"/>
<rect x="174" y="165" width="3" height="2" fill="#fff"/>
<rect x="183" y="156" width="1" height="13" fill="#000"/>
<rect x="181" y="164" width="5" height="1" fill="#000"/>
<rect x="191" y="144" width="1" height="23" fill="#000"/>
<rect x="189" y="163" width="5" height="3" fill="#000"/>
<rect x="199" y="150" width="1" height="18" fill="#000"/>
<rect x="197" y="152" width="5" height="13" fill="#000"/>
<rect x="198" y="153" width="3" height="11" fill="#fff"/>
<rect x="207" y="60" width="1" height="110" fill="#000"/>
<rect x="205" y="70" width="5" height="84" fill="#000"/>
<rect x="206" y="71" width="3" height="82" fill="#fff"/>
<rect x="215" y="52" width="1" height="55" fill="#000"/>
<rect x="213" y="64" width="5" height="35" fill="#000"/>
<rect x="223" y="91" width="1" height="6" fill="#000"/>
<rect x="221" y="93" width="5" height="4" fill="#000"/>
<rect x="222" y="94" width="3" height="2" fill="#fff"/>
<rect x="231" y="77" width="1" height="38" fill="#000"/>
<rect x="229" y="93" width="5" height="15" fill="#000"/>
<rect x="239" y="100" width="1" height="49" fill="#000"/>
<rect x="237" y="107" width="5" height="37" fill="#000"/>
<rect x="247" y="143" width="1" height="15" fill="#000"/>
<rect x="245" y="143" width="5" height="9" fill="#000"/>
<rect x="255" y="140" width="1" height="41" fill="#000"/>
<rect x="253" y="151" width="5" height="22" fill="#000"/>
<rect x="263" y="157" width="1" height="20" fill="#000"/>
<rect x="261" y="170" width="5" height="3" fill="#000"/>
<rect x="262" y="171" width="3" height="1" fill="#fff"/>
<rect x="271" y="168" width="1" height="9" fill="#000"/>
<rect x="269" y="171" width="5" height="5" fill="#000"/>
<rect x="270" y="172" width="3" height="3" fill="#fff"/>
<rect x="279" y="169" width="1" height="30" fill="#000"/>
<rect x="277" y="171" width="5" height="20" fill="#000"/>
<rect x="287" y="183" width="1" height="17" fill="#000"/>
<rect x="285" y="189" width="5" height="6" fill="#000"/>
<rect x="295" y="182" width="1" height="3" fill="#000"/>
<rect x="293" y="183" width="5" height="1" fill="#000"/>
<rect x="303" y="164" width="1" height="21" fill="#000"/>
<rect x="301" y="169" width="5" height="15" fill="#000"/>
<rect x="302" y="170" width="3" height="13" fill="#fff"/>
<rect x="311" y="145" width="1" height="35" fill="#000"/>
<rect x="309" y="152" width="5" height="18" fill="#000"/>
<rect x="310" y="153" width="3" height="16" fill="#fff"/>
<rect x="319" y="151" width="1" height="8" fill="#000"/>
<rect x="317" y="153" width="5" height="6" fill="#000"/>
<rect x="318" y="154" width="3" height="4" fill="#fff"/>
<rect x="327" y="149" width="1" height="19" fill="#000"/>
<rect x="325" y="153" width="5" height="12" fill="#000"/>
<rect x="335" y="129" width="1" height="43" fill="#000"/>
<rect x="333" y="138" width="5" height="27" fill="#000"/>
<rect x="334" y="139" width="3" height="25" fill="#fff"/>
<rect x="343" y="135" width="1" height="5" fill="#000"/>
<rect x="341" y="136" width="5" height="4" fill="#000"/>
<rect x="342" y="137" width="3" height="2" fill="#fff"/>
<rect x="351" y="133" width="1" height="42" fill="#000"/>
<rect x="349" y="136" width="5" height="30" fill="#000"/>
<rect x="359" y="164" width="1" height="37" fill="#000"/>
<rect x="357" y="165" width="5" height="32" fill="#000"/>
<rect x="367" y="196" width="1" height="10" fill="#000"/>
<rect x="365" y="197" width="5" height="8" fill="#000"/>
<rect x="366" y="198" width="3" height="6" fill="#fff"/>
<rect x="375" y="162" width="1" height="38" fill="#000"/>
<rect x="373" y="163" width="5" height="35" fill="#000"/>
<rect x="374" y="164" width="3" height="33" fill="#fff"/>
<rect x="383" y="152" width="1" height="43" fill="#000"/>
<rect x="381" y="163" width="5" height="26" fill="#000"/>
<rect x="391" y="156" width="1" height="44" fill="#000"/>
<rect x="389" y="161" width="5" height="28" fill="#000"/>
<rect x="390" y="162" width="3" height="26" fill="#fff"/>
<rect x="399" y="149" width="1" height="23" fill="#000"/>
<rect x="397" y="156" width="5" height="6" fill="#000"/>
<rect x="398" y="157" width="3" height="4" fill="#fff"/>
<rect x="407" y="148" width="1" height="14" fill="#000"/>
<rect x="405" y="156" width="5" height="2" fill="#000"/>
<rect x="415" y="160" width="1" height="6" fill="#000"/>
<rect x="413" y="161" width="5" height="4" fill="#000"/>
<rect x="414" y="162" width="3" height="2" fill="#fff"/>
<rect x="423" y="159" width="1" height="14" fill="#000"/>
<rect x="421" y="161" width="5" height="1" fill="#000"/>
<rect x="431" y="149" width="1" height="22" fill="#000"/>
<rect x="429" y="158" width="5" height="5" fill="#000"/>
<rect x="430" y="159" width="3" height="3" fill="#fff"/>
<rect x="439" y="150" width="1" height="17" fill="#000"/>
<rect x="437" y="152" width="5" height="6" fill="#000"/>
<rect x="438" y="153" width="3" height="4" fill="#fff"/>
<rect x="447" y="133" width="1" height="21" fill="#000"/>
<rect x="445" y="135" width="5" height="18" fill="#000"/>
<rect x="446" y="136" width="3" height="16" fill="#fff"/>
<rect x="455" y="126" width="1" height="27" fill="#000"/>
<rect x="453" y="136" width="5" height="16" fill="#000"/>
<rect x="463" y="151" width="1" height="5" fill="#000"/>
<rect x="461" y="152" width="5" height="4" fill="#000"/>
<rect x="462" y="153" width="3" height="2" fill="#fff"/>
<rect x="471" y="151" width="1" height="13" fill="#000"/>
<rect x="469" y="152" width="5" height="2" fill="#000"/>
<rect x="479" y="138" width="1" height="24" fill="#000"/>
<rect x="477" y="150" width="5" height="4" fill="#000"/>
<rect x="478" y="151" width="3" height="2" fill="#fff"/>
<rect x="487" y="124" width="1" height="28" fill="#000"/>
<rect x="485" y="132" width="5" height="19" fill="#000"/>
<rect x="486" y="133" width="3" height="17" fill="#fff"/>
<rect x="495" y="130" width="1" height="25" fill="#000"/>
<rect x="493" y="132" width="5" height="12" fill="#000"/>
<rect x="503" y="129" width="1" height="37" fill="#000"/>
<rect x="501" y="143" width="5" height="19" fill="#000"/>
<rect x="511" y="170" width="1" height="10" fill="#000"/>
<rect x="509" y="172" width="5" height="7" fill="#000"/>
<rect x="519" y="164" width="1" height="15" fill="#000"/>
<rect x="517" y="174" width="5" height="5" fill="#000"/>
<rect x="518" y="175" width="3" height="3" fill="#fff"/>
<rect x="527" y="170" width="1" height="22" fill="#000"/>
<rect x="525" y="174" width="5" height="4" fill="#000"/>
<rect x="535" y="175" width="1" height="12" fill="#000"/>
<rect x="533" y="177" width="5" height="6" fill="#000"/>
<rect x="543" y="165" width="1" height="32" fill="#000"/>
<rect x="541" y="170" width="5" height="12" fill="#000"/>
<rect x="542" y="171" width="3" height="10" fill="#fff"/>
<rect x="551" y="152" width="1" height="18" fill="#000"/>
<rect x="549" y="158" width="5" height="12" fill="#000"/>
<rect x="550" y="159" width="3" height="10" fill="#fff"/>
<rect x="559" y="160" width="1" height="6" fill="#000"/>
<rect x="557" y="161" width="5" height="4" fill="#000"/>
<rect x="558" y="162" width="3" height="2" fill="#fff"/>
<rect x="567" y="156" width="1" height="45" fill="#000"/>
<rect x="565" y="162" width="5" height="38" fill="#000"/>
<rect x="575" y="162" width="1" height="42" fill="#000"/>
<rect x="573" y="167" width="5" height="32" fill="#000"/>
<rect x="574" y="168" width="3" height="30" fill="#fff"/>
<rect x="583" y="150" width="1" height="26" fill="#000"/>
<rect x="581" y="165" width="5" height="3" fill="#000"/>
<rect x="582" y="166" width="3" height="1" fill="#fff"/>
<rect x="591" y="163" width="1" height="16" fill="#000"/>
<rect x="589" y="165" width="5" height="12" fill="#000"/>
<rect x="599" y="172" width="1" height="22" fill="#000"/>
<rect x="597" y="176" width="5" height="17" fill="#000"/>
<rect x="607" y="191" width="1" height="6" fill="#000"/>
<rect x="605" y="193" width="5" height="3" fill="#000"/>
<rect x="615" y="178" width="1" height="18" fill="#000"/>
<rect x="613" y="185" width="5" height="10" fill="#000"/>
<rect x="614" y="186" width="3" height="8" fill="#fff"/>
<rect x="623" y="170" width="1" height="17" fill="#000"/>
<rect x="621" y="173" width="5" height="13" fill="#000"/>
<rect x="622" y="174" width="3" height="11" fill="#fff"/>
<rect x="631" y="161" width="1" height="15" fill="#000"/>
<rect x="629" y="172" width="5" height="2" fill="#000"/>
<rect x="639" y="148" width="1" height="30" fill="#000"/>
<rect x="637" y="154" width="5" height="19" fill="#000"/>
<rect x="638" y="155" width="3" height="17" fill="#fff"/>
<rect x="647" y="150" width="1" height="14" fill="#000"/>
<rect x="645" y="154" width="5" height="4" fill="#000"/>
<rect x="655" y="151" width="1" height="5" fill="#000"/>
<rect x="653" y="152" width="5" height="3" fill="#000"/>
<rect x="654" y="153" width="3" height="1" fill="#fff"/>
<rect x="663" y="151" width="1" height="13" fill="#000"/>
<rect x="661" y="153" width="5" height="10" fill="#000"/>
<rect x="671" y="153" width="1" height="21" fill="#000"/>
<rect x="669" y="161" width="5" height="2" fill="#000"/>
<rect x="679" y="133" width="1" height="30" fill="#000"/>
<rect x="677" y="143" width="5" height="19" fill="#000"/>
<rect x="678" y="144" width="3" height="17" fill="#fff"/>
<rect x="687" y="124" width="1" height="23" fill="#000"/>
<rect x="685" y="132" width="5" height="11" fill="#000"/>
<rect x="686" y="133" width="3" height="9" fill="#fff"/>
<rect x="695" y="116" width="1" height="28" fill="#000"/>
<rect x="693" y="120" width="5" height="13" fill="#000"/>
<rect x="694" y="121" width="3" height="11" fill="#fff"/>
<rect x="703" y="126" width="1" height="8" fill="#000"/>
<rect x="701" y="127" width="5" height="6" fill="#000"/>
<rect x="702" y="128" width="3" height="4" fill="#fff"/>
<rect x="711" y="124" width="1" height="43" fill="#000"/>
<rect x="709" y="127" width="5" height="27" fill="#000"/>
<rect x="719" y="145" width="1" height="15" fill="#000"/>
<rect x="717" y="150" width="5" height="4" fill="#000"/>
<rect x="718" y="151" width="3" height="2" fill="#fff"/>
<rect x="727" y="143" width="1" height="33" fill="#000"/>
<rect x="725" y="150" width="5" height="21" fill="#000"/>
<rect x="735" y="168" width="1" height="31" fill="#000"/>
<rect x="733" y="170" width="5" height="27" fill="#000"/>
<rect x="743" y="194" width="1" height="82" fill="#000"/>
<rect x="741" y="195" width="5" height="72" fill="#000"/>
<rect x="751" y="266" width="1" height="14" fill="#000"/>
<rect x="749" y="268" width="5" height="11" fill="#000"/>
<rect x="750" y="269" width="3" height="9" fill="#fff"/>
<rect x="759" y="240" width="1" height="45" fill="#000"/>
<rect x="757" y="254" width="5" height="14" fill="#000"/>
<rect x="758" y="255" width="3" height="12" fill="#fff"/>
<rect x="767" y="254" width="1" height="35" fill="#000"/>
<rect x="765" y="255" width="5" height="29" fill="#000"/>
<rect x="775" y="251" width="1" height="33" fill="#000"/>
<rect x="773" y="252" width="5" height="31" fill="#000"/>
<rect x="774" y="253" width="3" height="29" fill="#fff"/>
<rect x="783" y="253" width="1" height="27" fill="#000"/>
<rect x="781" y="253" width="5" height="22" fill="#000"/>
<rect x="791" y="271" width="1" height="29" fill="#000"/>
<rect x="789" y="274" width="5" height="17" fill="#000"/>
<rect x="799" y="301" width="1" height="15" fill="#000"/>
<rect x="797" y="306" width="5" height="9" fill="#000"/>
<rect x="798" y="307" width="3" height="7" fill="#fff"/>
<rect x="807" y="301" width="1" height="82" fill="#000"/>
<rect x="805" y="305" width="5" height="32" fill="#000"/>
<rect x="815" y="283" width="1" height="68" fill="#000"/>
<rect x="813" y="318" width="5" height="18" fill="#000"/>
<rect x="814" y="319" width="3" height="16" fill="#fff"/>
<rect x="823" y="297" width="1" height="59" fill="#000"/>
<rect x="821" y="319" width="5" height="34" fill="#000"/>
<rect x="831" y="346" width="1" height="63" fill="#000"/>
<rect x="829" y="350" width="5" height="54" fill="#000"/>
<rect x="839" y="345" width="1" height="67" fill="#000"/>
<rect x="837" y="371" width="5" height="33" fill="#000"/>
<rect x="838" y="372" width="3" height="31" fill="#fff"/>
<rect x="847" y="382" width="1" height="29" fill="#000"/>
<rect x="845" y="395" width="5" height="1" fill="#000"/>
<rect x="855" y="382" width="1" height="80" fill="#000"/>
<rect x="853" y="394" width="5" height="38" fill="#000"/>
<rect x="863" y="411" width="1" height="58" fill="#000"/>
<rect x="861" y="431" width="5" height="5" fill="#000"/>
<rect x="871" y="430" width="1" height="135" fill="#000"/>
<rect x="869" y="435" width="5" height="94" fill="#000"/>
<rect x="879" y="447" width="1" height="104" fill="#000"/>
<rect x="877" y="483" width="5" height="45" fill="#000"/>
<rect x="878" y="484" width="3" height="43" fill="#fff"/>
<rect x="887" y="394" width="1" height="99" fill="#000"/>
<rect x="885" y="467" width="5" height="16" fill="#000"/>
<rect x="886" y="468" width="3" height="14" fill="#fff"/>
<rect x="895" y="457" width="1" height="26" fill="#000"/>
<rect x="893" y="475" width="5" height="1" fill="#000"/>
<rect x="903" y="456" width="1" height="39" fill="#000"/>
<rect x="901" y="470" width="5" height="7" fill="#000"/>
<rect x="902" y="471" width="3" height="5" fill="#fff"/>
<rect x="911" y="407" width="1" height="74" fill="#000"/>
<rect x="909" y="416" width="5" height="55" fill="#000"/>
<rect x="910" y="417" width="3" height="53" fill="#fff"/>
<rect x="919" y="364" width="1" height="77" fill="#000"/>
<rect x="917" y="409" width="5" height="9" fill="#000"/>
<rect x="918" y="410" width="3" height="7" fill="#fff"/>
<rect x="927" y="355" width="1" height="70" fill="#000"/>
<rect x="925" y="372" width="5" height="38" fill="#000"/>
<rect x="926" y="373" width="3" height="36" fill="#fff"/>
<rect x="935" y="340" width="1" height="52" fill="#000"/>
<rect x="933" y="341" width="5" height="31" fill="#000"/>
<rect x="934" y="342" width="3" height="29" fill="#fff"/>
<rect x="943" y="353" width="1" height="10" fill="#000"/>
<rect x="941" y="355" width="5" height="8" fill="#000"/>
<rect x="942" y="356" width="3" height="6" fill="#fff"/>
<rect x="951" y="342" width="1" height="37" fill="#000"/>
<rect x="949" y="356" width="5" height="4" fill="#000"/>
<rect x="959" y="338" width="1" height="34" fill="#000"/>
<rect x="957" y="358" width="5" height="8" fill="#000"/>
<rect x="967" y="360" width="1" height="24" fill="#000"/>
<rect x="965" y="365" width="5" height="13" fill="#000"/>
<rect x="975" y="350" width="1" height="34" fill="#000"/>
<rect x="973" y="354" width="5" height="24" fill="#000"/>
<rect x="974" y="355" width="3" height="22" fill="#fff"/>
<rect x="983" y="353" width="1" height="30" fill="#000"/>
<rect x="981" y="355" width="5" height="23" fill="#000"/>
<rect x="991" y="376" width="1" height="5" fill="#000"/>
<rect x="989" y="377" width="5" height="3" fill="#000"/>
<rect x="990" y="378" width="3" height="1" fill="#fff"/>
<rect x="999" y="340" width="1" height="40" fill="#000"/>
<rect x="997" y="363" width="5" height="16" fill="#000"/>
<rect x="998" y="364" width="3" height="14" fill="#fff"/>
<rect x="1007" y="330" width="1" height="41" fill="#000"/>
<rect x="1005" y="350" width="5" height="14" fill="#000"/>
<rect x="1006" y="351" width="3" height="12" fill="#fff"/>
<rect x="1015" y="329" width="1" height="30" fill="#000"/>
<rect x="1013" y="330" width="5" height="21" fill="#000"/>
<rect x="1014" y="331" width="3" height="19" fill="#fff"/>
<rect x="1023" y="314" width="1" height="25" fill="#000"/>
<rect x="1021" y="330" width="5" height="1" fill="#000"/>
<rect x="1031" y="326" width="1" height="7" fill="#000"/>
<rect x="1029" y="327" width="5" height="5" fill="#000"/>
<rect x="1039" y="327" width="1" height="15" fill="#000"/>
<rect x="1037" y="330" width="5" height="7" fill="#000"/>
<rect x="1047" y="319" width="1" height="21" fill="#000"/>
<rect x="1045" y="325" width="5" height="12" fill="#000"/>
<rect x="1046" y="326" width="3" height="10" fill="#fff"/>
<rect x="1055" y="324" width="1" height="36" fill="#000"/>
<rect x="1053" y="325" width="5" height="13" fill="#000"/>
<rect x="1063" y="331" width="1" height="27" fill="#000"/>
<rect x="1061" y="335" width="5" height="3" fill="#000"/>
<rect x="1071" y="333" width="1" height="22" fill="#000"/>
<rect x="1069" y="334" width="5" height="12" fill="#000"/>
<rect x="1079" y="341" width="1" height="4" fill="#000"/>
<rect x="1077" y="341" width="5" height="3" fill="#000"/>
<rect x="1087" y="336" width="1" height="21" fill="#000"/>
<rect x="1085" y="341" width="5" height="13" fill="#000"/>
<rect x="1095" y="350" width="1" height="47" fill="#000"/>
<rect x="1093" y="352" width="5" height="33" fill="#000"/>
<rect x="1103" y="366" width="1" height="28" fill="#000"/>
<rect x="1101" y="376" width="5" height="8" fill="#000"/>
<rect x="1102" y="377" width="3" height="6" fill="#fff"/>
<rect x="1111" y="358" width="1" height="29" fill="#000"/>
<rect x="1109" y="373" width="5" height="5" fill="#000"/>
<rect x="1110" y="374" width="3" height="3" fill="#fff"/>
<rect x="1119" y="370" width="1" height="17" fill="#000"/>
<rect x="1117" y="373" width="5" height="8" fill="#000"/>
<rect x="1127" y="373" width="1" height="6" fill="#000"/>
<rect x="1125" y="374" width="5" height="4" fill="#000"/>
<rect x="1126" y="375" width="3" height="2" fill="#fff"/>
<rect x="1135" y="361" width="1" height="16" fill="#000"/>
<rect x="1133" y="367" width="5" height="9" fill="#000"/>
<rect x="1134" y="368" width="3" height="7" fill="#fff"/>
<rect x="1143" y="361" width="1" height="20" fill="#000"/>
<rect x="1141" y="367" width="5" height="13" fill="#000"/>
<rect x="1151" y="373" width="1" height="23" fill="#000"/>
<rect x="1149" y="374" width="5" height="5" fill="#000"/>
<rect x="1150" y="375" width="3" height="3" fill="#fff"/>
<rect x="1159" y="320" width="1" height="61" fill="#000"/>
<rect x="1157" y="331" width="5" height="45" fill="#000"/>
<rect x="1158" y="332" width="3" height="43" fill="#fff"/>
<rect x="1167" y="328" width="1" height="39" fill="#000"/>
<rect x="1165" y="331" width="5" height="35" fill="#000"/>
<rect x="1175" y="369" width="1" height="8" fill="#000"/>
<rect x="1173" y="371" width="5" height="5" fill="#000"/>
<rect x="1183" y="368" width="1" height="16" fill="#000"/>
<rect x="1181" y="374" width="5" height="6" fill="#000"/>
<rect x="1191" y="369" width="1" height="18" fill="#000"/>
<rect x="1189" y="378" width="5" height="8" fill="#000"/>
<rect x="1199" y="384" width="1" height="40" fill="#000"/>
<rect x="1197" y="384" width="5" height="36" fill="#000"/>
<rect x="1207" y="394" width="1" height="27" fill="#000"/>
<rect x="1205" y="403" width="5" height="16" fill="#000"/>
<rect x="1206" y="404" width="3" height="14" fill="#fff"/>
<rect x="1215" y="380" width="1" height="26" fill="#000"/>
<rect x="1213" y="386" width="5" height="19" fill="#000"/>
<rect x="1214" y="387" width="3" height="17" fill="#fff"/>
<rect x="1223" y="378" width="1" height="7" fill="#000"/>
<rect x="1221" y="378" width="5" height="5" fill="#000"/>
<rect x="1222" y="379" width="3" height="3" fill="#fff"/>
<rect x="1231" y="369" width="1" height="29" fill="#000"/>
<rect x="1229" y="378" width="5" height="4" fill="#000"/>
<rect x="1239" y="376" width="1" height="36" fill="#000"/>
<rect x="1237" y="380" width="5" height="31" fill="#000"/>
<rect x="1247" y="396" width="1" height="28" fill="#000"/>
<rect x="1245" y="409" width="5" height="12" fill="#000"/>
<rect x="1255" y="408" width="1" height="27" fill="#000"/>
<rect x="1253" y="409" width="5" height="12" fill="#000"/>
<rect x="1254" y="410" width="3" height="10" fill="#fff"/>
<rect x="1263" y="407" width="1" height="32" fill="#000"/>
<rect x="1261" y="409" width="5" height="30" fill="#000"/>
<rect x="1271" y="444" width="1" height="5" fill="#000"/>
<rect x="1269" y="444" width="5" height="3" fill="#000"/>
<rect x="1279" y="410" width="1" height="38" fill="#000"/>
<rect x="1277" y="410" width="5" height="37" fill="#000"/>
<rect x="1278" y="411" width="3" height="35" fill="#fff"/>
<rect x="1287" y="383" width="1" height="38" fill="#000"/>
<rect x="1285" y="390" width="5" height="27" fill="#000"/>
<rect x="1286" y="391" width="3" height="25" fill="#fff"/>
<rect x="1295" y="385" width="1" height="22" fill="#000"/>
<rect x="1293" y="391" width="5" height="13" fill="#000"/>
<rect x="1303" y="395" width="1" height="17" fill="#000"/>
<rect x="1301" y="399" width="5" height="6" fill="#000"/>
<rect x="1311" y="399" width="1" height="25" fill="#000"/>
<rect x="1309" y="403" width="5" height="16" fill="#000"/>
<rect x="1319" y="409" width="1" height="7" fill="#000"/>
<rect x="1317" y="409" width="5" height="7" fill="#000"/>
<rect x="1318" y="410" width="3" height="5" fill="#fff"/>
<rect x="1327" y="407" width="1" height="7" fill="#000"/>
<rect x="1325" y="408" width="5" height="3" fill="#000"/>
<rect x="1326" y="409" width="3" height="1" fill="#fff"/>
<rect x="1335" y="372" width="1" height="38" fill="#000"/>
<rect x="1333" y="382" width="5" height="27" fill="#000"/>
<rect x="1334" y="383" width="3" height="25" fill="#fff"/>
<rect x="1343" y="373" width="1" height="30" fill="#000"/>
<rect x="1341" y="382" width="5" height="10" fill="#000"/>
<rect x="1351" y="375" width="1" height="23" fill="#000"/>
<rect x="1349" y="382" width="5" height="10" fill="#000"/>
<rect x="1350" y="383" width="3" height="8" fill="#fff"/>
<rect x="1359" y="363" width="1" height="37" fill="#000"/>
<rect x="1357" y="376" width="5" height="7" fill="#000"/>
<rect x="1358" y="377" width="3" height="5" fill="#fff"/>
<rect x="1367" y="372" width="1" height="5" fill="#000"/>
<rect x="1365" y="374" width="5" height="1" fill="#000"/>
<rect x="1375" y="340" width="1" height="36" fill="#000"/>
<rect x="1373" y="340" width="5" height="35" fill="#000"/>
<rect x="1374" y="341" width="3" height="33" fill="#fff"/>
<rect x="1383" y="288" width="1" height="60" fill="#000"/>
<rect x="1381" y="289" width="5" height="58" fill="#000"/>
<rect x="1382" y="290" width="3" height="56" fill="#fff"/>
<rect x="1391" y="279" width="1" height="24" fill="#000"/>
<rect x="1389" y="289" width="5" height="1" fill="#000"/>
</g>
<rect x="1624.5" y="245.5" width="4" height="4" fill="#fff" stroke="#ff0000" stroke-width="1"/>
<rect x="1624.5" y="266.5" width="4" height="4" fill="#fff" stroke="#ff0000" stroke-width="1"/>
<rect x="1624.5" y="321.5" width="4" height="4" fill="#fff" stroke="#0000ff" stroke-width="1"/>
<rect x="1624.5" y="340.5" width="4" height="4" fill="#fff" stroke="#0000ff" stroke-width="1"/>
<rect x="1346" y="300" width="73" height="10" fill="#00ff00"/>
</g>
<g shape-rendering="crispEdges">
<line x1="1270" y1="446" x2="1285.8" y2="398.5" stroke="#ff0000" stroke-width="3"/><polygon points="1289,389 1289.9,402 1280.5,398.8" fill="#ff0000"/>
<line x1="1289" y1="390" x2="1324.8" y2="415.2" stroke="#ff0000" stroke-width="3"/><polygon points="1333,421 1320.3,418.2 1326.1,410" fill="#ff0000"/>
<line x1="1336" y1="424" x2="1411.1" y2="273" stroke="#ff0000" stroke-width="3"/><polygon points="1415.5,264 1414.6,277 1405.7,272.5" fill="#ff0000"/>
</g>
<g shape-rendering="crispEdges">
<rect x="1456" y="303" width="8" height="1" fill="#ff0000"/>
<rect x="1463.5" y="301.5" width="3" height="3" fill="#fff" stroke="#ff0000"/>
<rect x="1466.5" y="291.5" width="73" height="24" fill="#fff" stroke="#ff0000"/>
</g>
<text x="1468.8" y="311.6" font-size="22" fill="#ff0000" textLength="68.6" lengthAdjust="spacingAndGlyphs" stroke="#ff0000" stroke-width="0.5">136.243</text>
<text x="1432.9" y="362.8" font-size="32.6" fill="#003800" textLength="163" lengthAdjust="spacingAndGlyphs" font-family="'Liberation Serif', 'Noto Serif CJK SC', serif">多空转折点</text>
<text x="1431.9" y="361.8" font-size="32.6" fill="#00ff00" textLength="163" lengthAdjust="spacingAndGlyphs" font-family="'Liberation Serif', 'Noto Serif CJK SC', serif">多空转折点</text>
<g shape-rendering="crispEdges">
<rect x="0" y="25" width="1630" height="1" fill="#000"/>
<rect x="1629" y="25" width="1" height="554" fill="#000"/>
<rect x="0" y="578" width="1630" height="1" fill="#000"/>
<rect x="0" y="580" width="1630" height="1" fill="#000"/>
<rect x="1629" y="580" width="1" height="171" fill="#000"/>
<rect x="0" y="750" width="1630" height="1" fill="#000"/>
<rect x="0" y="752" width="1630" height="1" fill="#000"/>
<rect x="1629" y="752" width="1" height="175" fill="#000"/>
<rect x="0" y="926" width="1630" height="1" fill="#000"/>
<rect x="1630" y="47" width="2" height="1" fill="#000"/>
<rect x="1630" y="80" width="2" height="1" fill="#000"/>
<rect x="1630" y="113" width="2" height="1" fill="#000"/>
<rect x="1630" y="146" width="2" height="1" fill="#000"/>
<rect x="1630" y="179" width="2" height="1" fill="#000"/>
<rect x="1630" y="212" width="2" height="1" fill="#000"/>
<rect x="1630" y="278" width="2" height="1" fill="#000"/>
<rect x="1630" y="311" width="2" height="1" fill="#000"/>
<rect x="1630" y="344" width="2" height="1" fill="#000"/>
<rect x="1630" y="377" width="2" height="1" fill="#000"/>
<rect x="1630" y="410" width="2" height="1" fill="#000"/>
<rect x="1630" y="443" width="2" height="1" fill="#000"/>
<rect x="1630" y="476" width="2" height="1" fill="#000"/>
<rect x="1630" y="509" width="2" height="1" fill="#000"/>
<rect x="1630" y="542" width="2" height="1" fill="#000"/>
<rect x="1630" y="575" width="2" height="1" fill="#000"/>
</g>
<text x="1635.3" y="50.8" font-size="9.8" fill="#000" textLength="33" lengthAdjust="spacingAndGlyphs" stroke="#000" stroke-width="0.14">148.190</text>
<text x="1635.3" y="83.8" font-size="9.8" fill="#000" textLength="33" lengthAdjust="spacingAndGlyphs" stroke="#000" stroke-width="0.14">146.660</text>
<text x="1635.3" y="116.8" font-size="9.8" fill="#000" textLength="33" lengthAdjust="spacingAndGlyphs" stroke="#000" stroke-width="0.14">145.085</text>
<text x="1635.3" y="149.8" font-size="9.8" fill="#000" textLength="33" lengthAdjust="spacingAndGlyphs" stroke="#000" stroke-width="0.14">143.555</text>
<text x="1635.3" y="182.8" font-size="9.8" fill="#000" textLength="33" lengthAdjust="spacingAndGlyphs" stroke="#000" stroke-width="0.14">142.025</text>
<text x="1635.3" y="215.8" font-size="9.8" fill="#000" textLength="33" lengthAdjust="spacingAndGlyphs" stroke="#000" stroke-width="0.14">140.495</text>
<text x="1635.3" y="281.8" font-size="9.8" fill="#000" textLength="33" lengthAdjust="spacingAndGlyphs" stroke="#000" stroke-width="0.14">137.390</text>
<text x="1635.3" y="314.8" font-size="9.8" fill="#000" textLength="33" lengthAdjust="spacingAndGlyphs" stroke="#000" stroke-width="0.14">135.860</text>
<text x="1635.3" y="347.8" font-size="9.8" fill="#000" textLength="33" lengthAdjust="spacingAndGlyphs" stroke="#000" stroke-width="0.14">134.330</text>
<text x="1635.3" y="380.8" font-size="9.8" fill="#000" textLength="33" lengthAdjust="spacingAndGlyphs" stroke="#000" stroke-width="0.14">132.800</text>
<text x="1635.3" y="413.8" font-size="9.8" fill="#000" textLength="33" lengthAdjust="spacingAndGlyphs" stroke="#000" stroke-width="0.14">131.270</text>
<text x="1635.3" y="446.8" font-size="9.8" fill="#000" textLength="33" lengthAdjust="spacingAndGlyphs" stroke="#000" stroke-width="0.14">129.695</text>
<text x="1635.3" y="479.8" font-size="9.8" fill="#000" textLength="33" lengthAdjust="spacingAndGlyphs" stroke="#000" stroke-width="0.14">128.165</text>
<text x="1635.3" y="512.8" font-size="9.8" fill="#000" textLength="33" lengthAdjust="spacingAndGlyphs" stroke="#000" stroke-width="0.14">126.635</text>
<text x="1635.3" y="545.8" font-size="9.8" fill="#000" textLength="33" lengthAdjust="spacingAndGlyphs" stroke="#000" stroke-width="0.14">125.105</text>
<text x="1635.3" y="578.8" font-size="9.8" fill="#000" textLength="33" lengthAdjust="spacingAndGlyphs" stroke="#000" stroke-width="0.14">123.575</text>
<g shape-rendering="crispEdges">
<rect x="1631" y="241" width="41" height="11" fill="#ff0000"/>
<rect x="1631" y="262" width="41" height="11" fill="#ff0000"/>
<rect x="1631" y="284" width="41" height="11" fill="#000000"/>
<rect x="1631" y="297" width="41" height="11" fill="#32cd32"/>
<rect x="1631" y="317" width="41" height="11" fill="#0000ff"/>
<rect x="1631" y="336" width="41" height="11" fill="#0000ff"/>
</g>
<text x="1635.3" y="250" font-size="9.8" fill="#fff" textLength="32.6" lengthAdjust="spacingAndGlyphs" stroke="#fff" stroke-width="0.2">138.851</text>
<text x="1635.3" y="271" font-size="9.8" fill="#fff" textLength="32.6" lengthAdjust="spacingAndGlyphs" stroke="#fff" stroke-width="0.2">137.873</text>
<text x="1635.3" y="293" font-size="9.8" fill="#fff" textLength="32.6" lengthAdjust="spacingAndGlyphs" stroke="#fff" stroke-width="0.2">136.894</text>
<text x="1635.3" y="306" font-size="9.8" fill="#fff" textLength="32.6" lengthAdjust="spacingAndGlyphs" stroke="#fff" stroke-width="0.2">136.243</text>
<text x="1635.3" y="326" font-size="9.8" fill="#fff" textLength="32.6" lengthAdjust="spacingAndGlyphs" stroke="#fff" stroke-width="0.2">135.312</text>
<text x="1635.3" y="345" font-size="9.8" fill="#fff" textLength="32.6" lengthAdjust="spacingAndGlyphs" stroke="#fff" stroke-width="0.2">134.428</text>
<polygon points="1393.7,26 1403.3,26 1398.5,31.2" fill="#c0c0c0"/>
<text x="6.2" y="37.3" font-size="9.6" fill="#000" textLength="210" lengthAdjust="spacingAndGlyphs" stroke="#000" stroke-width="0.14">GBPJPY-,Daily&#160;&#160;136.880 137.375 136.236 136.894</text>
<rect x="0" y="36" width="1" height="1" fill="#000"/>
<g shape-rendering="crispEdges">
<rect x="213" y="45" width="2" height="64" fill="#fff"/>
<rect x="0" y="45" width="46" height="24" fill="url(#gTab)"/>
<rect x="45" y="45" width="1" height="24" fill="#1010b8"/>
<rect x="0" y="45" width="46" height="1" fill="#1818c0"/>
<rect x="0" y="67" width="42" height="1" fill="#0c0ca8"/>
<rect x="0" y="68" width="42" height="1" fill="#6c6cf4"/>
<rect x="161" y="45" width="52" height="24" fill="url(#gTab)"/>
<rect x="161" y="45" width="1" height="24" fill="#1010b8"/>
<rect x="161" y="45" width="52" height="1" fill="#1818c0"/>
<rect x="212" y="45" width="1" height="24" fill="#1010b8"/>
<rect x="165" y="67" width="44" height="1" fill="#0c0ca8"/>
<rect x="165" y="68" width="44" height="1" fill="#6c6cf4"/>
<rect x="0" y="69" width="103" height="40" fill="url(#gBig)"/>
<rect x="102" y="69" width="1" height="40" fill="#0808a0"/>
<rect x="105" y="69" width="108" height="40" fill="url(#gBig)"/>
<rect x="105" y="69" width="1" height="40" fill="#0808a0"/>
<rect x="212" y="69" width="1" height="40" fill="#0808a0"/>
<rect x="0" y="69" width="103" height="1" fill="#2020c8"/>
<rect x="105" y="69" width="108" height="1" fill="#2020c8"/>
<rect x="48" y="45" width="112" height="22" fill="#a8a8a8"/>
<rect x="49" y="46" width="110" height="20" fill="#fff"/>
<rect x="49" y="46" width="20" height="20" fill="url(#gBtn)"/>
<rect x="69" y="46" width="1" height="20" fill="#a8a8a8"/>
<rect x="138" y="46" width="20" height="20" fill="url(#gBtn)"/>
<rect x="137" y="46" width="1" height="20" fill="#a8a8a8"/>
<rect x="158" y="46" width="1" height="20" fill="#e8e8e8"/>
</g>
<polygon points="56,54.5 61,54.5 58.5,57.5" fill="#4a5aa8"/>
<polygon points="145,57.5 150,57.5 147.5,54.5" fill="#4a5aa8"/>
<text x="134" y="60" font-size="12.5" fill="#000" text-anchor="end">1.00</text>
<text x="6.6" y="61" font-size="12" fill="#fff" textLength="25.2" lengthAdjust="spacingAndGlyphs">SELL</text>
<text x="174.3" y="61" font-size="12" fill="#fff" textLength="23.3" lengthAdjust="spacingAndGlyphs">BUY</text>
<text x="17.7" y="100.1" font-size="12" fill="#fff" font-weight="bold" textLength="20.3" lengthAdjust="spacingAndGlyphs">136</text>
<text x="42.3" y="100.4" font-size="34.4" fill="#fff" textLength="33.4" lengthAdjust="spacingAndGlyphs">89</text>
<text x="81" y="84" font-size="12" fill="#fff" font-weight="bold">4</text>
<text x="127.6" y="100.1" font-size="12" fill="#fff" font-weight="bold" textLength="20.6" lengthAdjust="spacingAndGlyphs">136</text>
<text x="152.8" y="100.4" font-size="34.4" fill="#fff" textLength="32.8" lengthAdjust="spacingAndGlyphs">97</text>
<text x="192.1" y="84" font-size="12" fill="#fff" font-weight="bold">8</text>
<g shape-rendering="crispEdges" clip-path="url(#cMacd)">
<rect x="7" y="610" width="1" height="26" fill="#c0c0c0"/>
<rect x="15" y="612" width="1" height="24" fill="#c0c0c0"/>
<rect x="23" y="613" width="1" height="23" fill="#c0c0c0"/>
<rect x="31" y="613" width="1" height="23" fill="#c0c0c0"/>
<rect x="39" y="613" width="1" height="23" fill="#c0c0c0"/>
<rect x="47" y="615" width="1" height="21" fill="#c0c0c0"/>
<rect x="55" y="616" width="1" height="20" fill="#c0c0c0"/>
<rect x="63" y="617" width="1" height="19" fill="#c0c0c0"/>
<rect x="71" y="621" width="1" height="15" fill="#c0c0c0"/>
<rect x="79" y="623" width="1" height="13" fill="#c0c0c0"/>
<rect x="87" y="622" width="1" height="14" fill="#c0c0c0"/>
<rect x="95" y="623" width="1" height="13" fill="#c0c0c0"/>
<rect x="103" y="621" width="1" height="15" fill="#c0c0c0"/>
<rect x="111" y="620" width="1" height="16" fill="#c0c0c0"/>
<rect x="119" y="617" width="1" height="19" fill="#c0c0c0"/>
<rect x="127" y="617" width="1" height="19" fill="#c0c0c0"/>
<rect x="135" y="618" width="1" height="18" fill="#c0c0c0"/>
<rect x="143" y="618" width="1" height="18" fill="#c0c0c0"/>
<rect x="151" y="615" width="1" height="21" fill="#c0c0c0"/>
<rect x="159" y="612" width="1" height="24" fill="#c0c0c0"/>
<rect x="167" y="611" width="1" height="25" fill="#c0c0c0"/>
<rect x="175" y="610" width="1" height="26" fill="#c0c0c0"/>
<rect x="183" y="609" width="1" height="27" fill="#c0c0c0"/>
<rect x="191" y="609" width="1" height="27" fill="#c0c0c0"/>
<rect x="199" y="608" width="1" height="28" fill="#c0c0c0"/>
<rect x="207" y="598" width="1" height="38" fill="#c0c0c0"/>
<rect x="215" y="594" width="1" height="42" fill="#c0c0c0"/>
<rect x="223" y="590" width="1" height="46" fill="#c0c0c0"/>
<rect x="231" y="590" width="1" height="46" fill="#c0c0c0"/>
<rect x="239" y="594" width="1" height="42" fill="#c0c0c0"/>
<rect x="247" y="599" width="1" height="37" fill="#c0c0c0"/>
<rect x="255" y="606" width="1" height="30" fill="#c0c0c0"/>
<rect x="263" y="611" width="1" height="25" fill="#c0c0c0"/>
<rect x="271" y="616" width="1" height="20" fill="#c0c0c0"/>
<rect x="279" y="622" width="1" height="14" fill="#c0c0c0"/>
<rect x="287" y="627" width="1" height="9" fill="#c0c0c0"/>
<rect x="295" y="630" width="1" height="6" fill="#c0c0c0"/>
<rect x="303" y="631" width="1" height="5" fill="#c0c0c0"/>
<rect x="311" y="629" width="1" height="7" fill="#c0c0c0"/>
<rect x="319" y="629" width="1" height="7" fill="#c0c0c0"/>
<rect x="327" y="629" width="1" height="7" fill="#c0c0c0"/>
<rect x="335" y="626" width="1" height="10" fill="#c0c0c0"/>
<rect x="343" y="625" width="1" height="11" fill="#c0c0c0"/>
<rect x="351" y="627" width="1" height="9" fill="#c0c0c0"/>
<rect x="359" y="632" width="1" height="4" fill="#c0c0c0"/>
<rect x="383" y="635" width="1" height="1" fill="#c0c0c0"/>
<rect x="391" y="634" width="1" height="2" fill="#c0c0c0"/>
<rect x="399" y="634" width="1" height="2" fill="#c0c0c0"/>
<rect x="407" y="634" width="1" height="2" fill="#c0c0c0"/>
<rect x="415" y="634" width="1" height="2" fill="#c0c0c0"/>
<rect x="423" y="634" width="1" height="2" fill="#c0c0c0"/>
<rect x="431" y="633" width="1" height="3" fill="#c0c0c0"/>
<rect x="439" y="632" width="1" height="4" fill="#c0c0c0"/>
<rect x="447" y="629" width="1" height="7" fill="#c0c0c0"/>
<rect x="455" y="629" width="1" height="7" fill="#c0c0c0"/>
<rect x="463" y="629" width="1" height="7" fill="#c0c0c0"/>
<rect x="471" y="629" width="1" height="7" fill="#c0c0c0"/>
<rect x="479" y="628" width="1" height="8" fill="#c0c0c0"/>
<rect x="487" y="627" width="1" height="9" fill="#c0c0c0"/>
<rect x="495" y="627" width="1" height="9" fill="#c0c0c0"/>
<rect x="503" y="628" width="1" height="8" fill="#c0c0c0"/>
<rect x="511" y="632" width="1" height="4" fill="#c0c0c0"/>
<rect x="519" y="634" width="1" height="2" fill="#c0c0c0"/>
<rect x="535" y="635" width="1" height="3" fill="#c0c0c0"/>
<rect x="543" y="635" width="1" height="3" fill="#c0c0c0"/>
<rect x="551" y="635" width="1" height="2" fill="#c0c0c0"/>
<rect x="559" y="635" width="1" height="2" fill="#c0c0c0"/>
<rect x="567" y="635" width="1" height="5" fill="#c0c0c0"/>
<rect x="575" y="635" width="1" height="3" fill="#c0c0c0"/>
<rect x="583" y="635" width="1" height="3" fill="#c0c0c0"/>
<rect x="591" y="635" width="1" height="4" fill="#c0c0c0"/>
<rect x="599" y="635" width="1" height="6" fill="#c0c0c0"/>
<rect x="607" y="635" width="1" height="8" fill="#c0c0c0"/>
<rect x="615" y="635" width="1" height="8" fill="#c0c0c0"/>
<rect x="623" y="635" width="1" height="7" fill="#c0c0c0"/>
<rect x="631" y="635" width="1" height="7" fill="#c0c0c0"/>
<rect x="639" y="635" width="1" height="3" fill="#c0c0c0"/>
<rect x="647" y="635" width="1" height="2" fill="#c0c0c0"/>
<rect x="663" y="634" width="1" height="2" fill="#c0c0c0"/>
<rect x="671" y="634" width="1" height="2" fill="#c0c0c0"/>
<rect x="679" y="632" width="1" height="4" fill="#c0c0c0"/>
<rect x="687" y="629" width="1" height="7" fill="#c0c0c0"/>
<rect x="695" y="625" width="1" height="11" fill="#c0c0c0"/>
<rect x="703" y="623" width="1" height="13" fill="#c0c0c0"/>
<rect x="711" y="624" width="1" height="12" fill="#c0c0c0"/>
<rect x="719" y="625" width="1" height="11" fill="#c0c0c0"/>
<rect x="727" y="629" width="1" height="7" fill="#c0c0c0"/>
<rect x="735" y="634" width="1" height="2" fill="#c0c0c0"/>
<rect x="743" y="635" width="1" height="10" fill="#c0c0c0"/>
<rect x="751" y="635" width="1" height="20" fill="#c0c0c0"/>
<rect x="759" y="635" width="1" height="25" fill="#c0c0c0"/>
<rect x="767" y="635" width="1" height="33" fill="#c0c0c0"/>
<rect x="775" y="635" width="1" height="35" fill="#c0c0c0"/>
<rect x="783" y="635" width="1" height="40" fill="#c0c0c0"/>
<rect x="791" y="635" width="1" height="43" fill="#c0c0c0"/>
<rect x="799" y="635" width="1" height="48" fill="#c0c0c0"/>
<rect x="807" y="635" width="1" height="54" fill="#c0c0c0"/>
<rect x="815" y="635" width="1" height="57" fill="#c0c0c0"/>
<rect x="823" y="635" width="1" height="62" fill="#c0c0c0"/>
<rect x="831" y="635" width="1" height="72" fill="#c0c0c0"/>
<rect x="839" y="635" width="1" height="75" fill="#c0c0c0"/>
<rect x="847" y="635" width="1" height="79" fill="#c0c0c0"/>
<rect x="855" y="635" width="1" height="85" fill="#c0c0c0"/>
<rect x="863" y="635" width="1" height="90" fill="#c0c0c0"/>
<rect x="871" y="635" width="1" height="103" fill="#c0c0c0"/>
<rect x="879" y="635" width="1" height="107" fill="#c0c0c0"/>
<rect x="887" y="635" width="1" height="107" fill="#c0c0c0"/>
<rect x="895" y="635" width="1" height="107" fill="#c0c0c0"/>
<rect x="903" y="635" width="1" height="105" fill="#c0c0c0"/>
<rect x="911" y="635" width="1" height="96" fill="#c0c0c0"/>
<rect x="919" y="635" width="1" height="87" fill="#c0c0c0"/>
<rect x="927" y="635" width="1" height="75" fill="#c0c0c0"/>
<rect x="935" y="635" width="1" height="61" fill="#c0c0c0"/>
<rect x="943" y="635" width="1" height="51" fill="#c0c0c0"/>
<rect x="951" y="635" width="1" height="43" fill="#c0c0c0"/>
<rect x="959" y="635" width="1" height="37" fill="#c0c0c0"/>
<rect x="967" y="635" width="1" height="33" fill="#c0c0c0"/>
<rect x="975" y="635" width="1" height="27" fill="#c0c0c0"/>
<rect x="983" y="635" width="1" height="24" fill="#c0c0c0"/>
<rect x="991" y="635" width="1" height="22" fill="#c0c0c0"/>
<rect x="999" y="635" width="1" height="18" fill="#c0c0c0"/>
<rect x="1007" y="635" width="1" height="13" fill="#c0c0c0"/>
<rect x="1015" y="635" width="1" height="8" fill="#c0c0c0"/>
<rect x="1023" y="635" width="1" height="4" fill="#c0c0c0"/>
<rect x="1039" y="633" width="1" height="3" fill="#c0c0c0"/>
<rect x="1047" y="631" width="1" height="5" fill="#c0c0c0"/>
<rect x="1055" y="629" width="1" height="7" fill="#c0c0c0"/>
<rect x="1063" y="629" width="1" height="7" fill="#c0c0c0"/>
<rect x="1071" y="629" width="1" height="7" fill="#c0c0c0"/>
<rect x="1079" y="629" width="1" height="7" fill="#c0c0c0"/>
<rect x="1087" y="631" width="1" height="5" fill="#c0c0c0"/>
<rect x="1103" y="635" width="1" height="2" fill="#c0c0c0"/>
<rect x="1111" y="635" width="1" height="4" fill="#c0c0c0"/>
<rect x="1119" y="635" width="1" height="6" fill="#c0c0c0"/>
<rect x="1127" y="635" width="1" height="7" fill="#c0c0c0"/>
<rect x="1135" y="635" width="1" height="7" fill="#c0c0c0"/>
<rect x="1143" y="635" width="1" height="8" fill="#c0c0c0"/>
<rect x="1151" y="635" width="1" height="8" fill="#c0c0c0"/>
<rect x="1159" y="635" width="1" height="4" fill="#c0c0c0"/>
<rect x="1167" y="635" width="1" height="4" fill="#c0c0c0"/>
<rect x="1175" y="635" width="1" height="5" fill="#c0c0c0"/>
<rect x="1183" y="635" width="1" height="5" fill="#c0c0c0"/>
<rect x="1191" y="635" width="1" height="7" fill="#c0c0c0"/>
<rect x="1199" y="635" width="1" height="13" fill="#c0c0c0"/>
<rect x="1207" y="635" width="1" height="15" fill="#c0c0c0"/>
<rect x="1215" y="635" width="1" height="13" fill="#c0c0c0"/>
<rect x="1223" y="635" width="1" height="13" fill="#c0c0c0"/>
<rect x="1231" y="635" width="1" height="12" fill="#c0c0c0"/>
<rect x="1239" y="635" width="1" height="14" fill="#c0c0c0"/>
<rect x="1247" y="635" width="1" height="16" fill="#c0c0c0"/>
<rect x="1255" y="635" width="1" height="18" fill="#c0c0c0"/>
<rect x="1263" y="635" width="1" height="22" fill="#c0c0c0"/>
<rect x="1271" y="635" width="1" height="25" fill="#c0c0c0"/>
<rect x="1279" y="635" width="1" height="25" fill="#c0c0c0"/>
<rect x="1287" y="635" width="1" height="20" fill="#c0c0c0"/>
<rect x="1295" y="635" width="1" height="19" fill="#c0c0c0"/>
<rect x="1303" y="635" width="1" height="17" fill="#c0c0c0"/>
<rect x="1311" y="635" width="1" height="17" fill="#c0c0c0"/>
<rect x="1319" y="635" width="1" height="16" fill="#c0c0c0"/>
<rect x="1327" y="635" width="1" height="15" fill="#c0c0c0"/>
<rect x="1335" y="635" width="1" height="11" fill="#c0c0c0"/>
<rect x="1343" y="635" width="1" height="9" fill="#c0c0c0"/>
<rect x="1351" y="635" width="1" height="6" fill="#c0c0c0"/>
<rect x="1359" y="635" width="1" height="3" fill="#c0c0c0"/>
<rect x="1375" y="631" width="1" height="5" fill="#c0c0c0"/>
<rect x="1383" y="620" width="1" height="16" fill="#c0c0c0"/>
<rect x="1391" y="612" width="1" height="24" fill="#c0c0c0"/>
<path d="M2 599.5h3M8 600.5h1M9 601.5h2M14 602.5h3M20 603.5h1M21 604.5h2M26 605.5h3M32 606.5h2M34 607.5h1M38 607.5h1M39 608.5h2M44 609.5h3M50 610.5h3M56 611.5h2M58 612.5h1M62 612.5h1M63 613.5h2M68 614.5h3M74 615.5h3M80 616.5h3M86 616.5h2M88 617.5h1M92 617.5h3M98 618.5h3M104 618.5h3M110 619.5h3M116 619.5h3M122 619.5h3M128 619.5h3M134 619.5h3M140 619.5h3M146 618.5h3M152 617.5h3M158 616.5h3M164 615.5h3M170 615.5h1M171 614.5h2M176 614.5h1M177 613.5h2M182 613.5h2M184 612.5h1M188 612.5h3M194 611.5h3M200 610.5h3M206 609.5h3M212 607.5h3M218 605.5h1M219 604.5h2M224 603.5h2M226 602.5h1M230 601.5h3M236 600.5h1M237 599.5h2M242 599.5h3M248 598.5h3M254 598.5h3M260 598.5h3M266 598.5h2M268 599.5h1M272 600.5h3M278 601.5h3M284 603.5h2M286 604.5h1M290 606.5h1M291 607.5h2M296 610.5h2M298 611.5h1M302 613.5h2M304 614.5h1M308 616.5h3M314 618.5h1M315 619.5h2M320 620.5h1M321 621.5h2M326 622.5h3M332 623.5h1M333 624.5h2M338 625.5h3M344 626.5h3M350 627.5h3M356 627.5h2M358 628.5h1M362 628.5h3M368 629.5h3M374 629.5h3M380 630.5h3M386 630.5h2M388 631.5h1M392 631.5h3M398 632.5h3M404 632.5h2M406 633.5h1M410 633.5h3M416 634.5h3M422 634.5h3M428 634.5h3M434 634.5h3M440 634.5h3M446 633.5h3M452 632.5h3M458 631.5h3M464 631.5h3M470 631.5h1M471 630.5h2M476 630.5h3M482 630.5h2M484 629.5h1M488 629.5h3M494 628.5h3M500 628.5h3M506 628.5h3M512 628.5h3M518 628.5h3M524 628.5h2M526 629.5h1M530 629.5h2M532 630.5h1M536 630.5h3M542 631.5h3M548 632.5h3M554 633.5h3M560 634.5h2M562 635.5h1M566 635.5h1M567 636.5h2M572 637.5h3M578 637.5h2M580 638.5h1M584 638.5h3M590 638.5h2M592 639.5h1M596 639.5h3M602 639.5h3M608 640.5h3M614 640.5h3M620 641.5h3M626 641.5h3M632 642.5h3M638 642.5h3M644 642.5h3M650 641.5h3M656 641.5h3M662 640.5h3M668 640.5h1M669 639.5h2M674 639.5h1M675 638.5h2M680 638.5h2M682 637.5h1M686 637.5h1M687 636.5h2M692 635.5h3M698 633.5h3M704 632.5h1M705 631.5h2M710 630.5h3M716 629.5h1M717 628.5h2M722 628.5h3M728 627.5h3M734 627.5h3M740 628.5h2M742 629.5h1M746 629.5h1M747 630.5h2M752 631.5h2M754 632.5h1M758 634.5h1M759 635.5h1M760 636.5h1M764 638.5h1M765 639.5h1M766 640.5h1M770 642.5h1M771 643.5h1M772 644.5h1M776 646.5h1M777 647.5h1M778 648.5h1M782 650.5h1M783 651.5h2M788 654.5h1M789 655.5h2M794 659.5h1M795 660.5h2M800 664.5h1M801 665.5h1M802 666.5h1M806 669.5h1M807 670.5h1M808 671.5h1M812 673.5h1M813 674.5h1M814 675.5h1M818 677.5h1M819 678.5h2M824 681.5h2M826 682.5h1M830 684.5h2M832 685.5h1M836 687.5h2M838 688.5h1M842 690.5h1M843 691.5h1M844 692.5h1M848 694.5h1M849 695.5h2M854 698.5h1M855 699.5h2M860 702.5h1M861 703.5h2M866 706.5h1M867 707.5h1M868 708.5h1M872 711.5h1M873 712.5h2M878 715.5h1M879 716.5h1M880 717.5h1M884 719.5h1M885 720.5h1M886 721.5h1M890 723.5h2M892 724.5h1M896 726.5h1M897 727.5h2M902 729.5h3M908 730.5h1M909 731.5h2M914 732.5h3M920 733.5h3M926 732.5h1M927 731.5h2M932 730.5h2M934 729.5h1M938 727.5h1M939 726.5h1M940 725.5h1M944 722.5h1M945 721.5h1M946 720.5h1M950 717.5h1M951 716.5h1M952 715.5h1M956 711.5h1M957 710.5h1M958 709.5h1M962 705.5h1M963 704.5h1M964 703.5h1M968 699.5h1M969 698.5h1M970 697.5h1M974 693.5h1M975 692.5h1M976 691.5h1M980 687.5h1M981 686.5h1M982 685.5h1M986 681.5h1M987 680.5h1M988 679.5h1M992 676.5h1M993 675.5h1M994 674.5h1M998 671.5h2M1000 670.5h1M1004 667.5h1M1005 666.5h1M1006 665.5h1M1010 663.5h1M1011 662.5h2M1016 659.5h2M1018 658.5h1M1022 656.5h1M1023 655.5h2M1028 653.5h1M1029 652.5h2M1034 650.5h1M1035 649.5h2M1040 647.5h1M1041 646.5h2M1046 644.5h1M1047 643.5h2M1052 642.5h1M1053 641.5h2M1058 639.5h3M1064 637.5h3M1070 636.5h1M1071 635.5h2M1076 634.5h1M1077 633.5h2M1082 632.5h2M1084 631.5h1M1088 631.5h3M1094 630.5h3M1100 630.5h3M1106 631.5h3M1112 631.5h3M1118 632.5h3M1124 633.5h3M1130 634.5h3M1136 635.5h1M1137 636.5h2M1142 637.5h2M1144 638.5h1M1148 638.5h3M1154 639.5h3M1160 639.5h1M1161 640.5h2M1166 640.5h3M1172 640.5h3M1178 640.5h1M1179 641.5h2M1184 641.5h3M1190 641.5h3M1196 641.5h1M1197 642.5h2M1202 642.5h3M1208 643.5h3M1214 643.5h3M1220 643.5h1M1221 644.5h2M1226 644.5h3M1232 644.5h1M1233 645.5h2M1238 646.5h3M1244 647.5h1M1245 648.5h2M1250 648.5h1M1251 649.5h2M1256 649.5h3M1262 650.5h3M1268 651.5h3M1274 652.5h3M1280 653.5h1M1281 654.5h2M1286 654.5h3M1292 654.5h2M1294 655.5h1M1298 655.5h3M1304 655.5h3M1310 655.5h3M1316 655.5h3M1322 655.5h3M1328 654.5h3M1334 653.5h2M1336 652.5h1M1340 651.5h3M1346 650.5h3M1352 649.5h3M1358 648.5h1M1359 647.5h2M1364 646.5h2M1366 645.5h1M1370 644.5h2M1372 643.5h1M1376 642.5h1M1377 641.5h2M1382 639.5h2M1384 638.5h1M1388 636.5h2M1390 635.5h1" stroke="#ff0000" stroke-width="1" fill="none"/>
</g>
<text x="-2" y="593" font-size="9.6" fill="#000" textLength="125" lengthAdjust="spacingAndGlyphs" stroke="#000" stroke-width="0.14">MACD(12,26,9) 0.7706 0.0015</text>
<text x="1633.3" y="591.1" font-size="9.7" fill="#000" textLength="27.8" lengthAdjust="spacingAndGlyphs" stroke="#000" stroke-width="0.14">1.7292</text>
<text x="1633.3" y="638.6" font-size="9.7" fill="#000" textLength="17.7" lengthAdjust="spacingAndGlyphs" stroke="#000" stroke-width="0.14">0.00</text>
<text x="1633.3" y="746.9" font-size="9.7" fill="#000" textLength="30.6" lengthAdjust="spacingAndGlyphs" stroke="#000" stroke-width="0.14">-3.7105</text>
<g shape-rendering="crispEdges">
<rect x="1630" y="635" width="2" height="1" fill="#000"/>
<rect x="1630" y="582" width="2" height="1" fill="#000"/>
<rect x="1630" y="754" width="2" height="1" fill="#000"/>
</g>
<g shape-rendering="crispEdges" clip-path="url(#cRsi)">
<line x1="-2" y1="788.5" x2="1629" y2="788.5" stroke="#c0c0c0" stroke-width="1" stroke-dasharray="3 3"/>
<line x1="-2" y1="839.5" x2="1629" y2="839.5" stroke="#c0c0c0" stroke-width="1" stroke-dasharray="3 3"/>
<line x1="-2" y1="900.5" x2="1629" y2="900.5" stroke="#c0c0c0" stroke-width="1" stroke-dasharray="3 3"/>
<path d="M-1 821.5h1M0 822.5h2M2 823.5h2M4 824.5h1M5 825.5h2M7 826.5h3M10 827.5h4M14 828.5h2M16 827.5h1M17 826.5h1M18 825.5h1M19.5 823v2M20 822.5h1M21 821.5h1M22 820.5h1M23 819.5h10M33 818.5h3M36 817.5h2M38 816.5h2M40 817.5h1M41 818.5h1M42 819.5h1M43.5 820v2M44 822.5h1M45 823.5h1M46 824.5h1M47 825.5h5M52 826.5h8M60 825.5h4M63 826.5h1M64.5 827v2M65.5 829v2M66.5 831v2M67.5 833v2M68.5 835v2M69.5 837v2M70.5 839v2M71.5 841v2M72 841.5h2M74 840.5h1M75 839.5h1M76 838.5h2M78 837.5h1M79 836.5h1M80.5 834v2M81 833.5h1M82.5 831v2M83 830.5h1M84.5 828v2M85 827.5h1M86.5 825v2M87 824.5h1M88 825.5h2M90 826.5h2M92 827.5h1M93 828.5h2M95 829.5h1M96.5 827v2M97.5 825v2M98 824.5h1M99.5 822v2M100 821.5h1M101.5 819v2M102.5 817v2M103 816.5h10M113 815.5h3M116 814.5h2M118 813.5h3M121 814.5h3M124 815.5h2M126 816.5h2M128 817.5h1M129 818.5h1M130 819.5h1M131 820.5h1M132 821.5h1M133 822.5h1M134 823.5h1M135 824.5h2M137 823.5h3M140 822.5h2M142 821.5h2M144.5 819v2M145.5 817v2M146.5 815v2M147.5 813v2M148.5 811v2M149.5 809v2M150.5 807v2M151 806.5h2M153 805.5h3M156 804.5h2M158 803.5h2M160 804.5h1M161 805.5h1M162 806.5h1M163.5 807v2M164 809.5h1M165 810.5h1M166 811.5h1M167 812.5h5M172 811.5h8M180 810.5h12M192 809.5h2M194 808.5h2M196 807.5h1M197 806.5h2M199.5 804v2M200.5 801v3M201.5 798v3M202.5 795v3M203.5 792v3M204.5 789v3M205.5 786v3M206.5 783v3M207.5 781v2M207 782.5h1M208.5 783v3M209.5 786v3M210.5 789v3M211.5 792v2M212.5 794v3M213.5 797v3M214.5 800v3M215.5 803v2M216 804.5h4M220 803.5h4M224 804.5h1M225 805.5h1M226 806.5h1M227.5 807v2M228 809.5h1M229 810.5h1M230 811.5h1M231.5 812v2M232.5 814v2M233.5 816v2M234.5 818v2M235.5 820v3M236.5 823v2M237.5 825v2M238.5 827v2M239.5 829v2M240 830.5h1M241 831.5h3M244 832.5h2M246 833.5h2M248 834.5h1M249 835.5h1M250 836.5h1M251.5 837v2M252 839.5h1M253 840.5h1M254 841.5h1M255 842.5h5M260 841.5h8M268 842.5h4M272 843.5h1M273 844.5h1M274 845.5h2M276 846.5h1M277 847.5h1M278 848.5h1M279 849.5h3M282 850.5h4M286 851.5h3M289 850.5h2M291 849.5h2M293 848.5h2M295 847.5h1M296 846.5h1M297 845.5h1M298 844.5h1M299 843.5h1M300 842.5h1M301 841.5h1M302 840.5h1M303 839.5h1M304 838.5h1M305 837.5h1M306 836.5h1M307 835.5h1M308 834.5h1M309 833.5h1M310 832.5h1M311 831.5h9M320 832.5h2M322 833.5h1M323 834.5h1M324 835.5h2M326 836.5h1M327 837.5h1M328.5 835v2M329 834.5h1M330 833.5h1M331.5 831v2M332 830.5h1M333 829.5h1M334.5 827v2M335 826.5h5M340 825.5h4M344.5 826v2M345.5 828v2M346.5 830v2M347.5 832v2M348.5 834v2M349.5 836v2M350.5 838v2M351 840.5h1M352.5 841v2M353.5 843v2M354 845.5h1M355.5 846v2M356 848.5h1M357.5 849v2M358.5 851v2M359 853.5h9M367 852.5h1M368.5 850v2M369.5 848v2M370.5 846v2M371.5 844v2M372.5 842v2M373.5 840v2M374.5 838v2M375 837.5h1M376 838.5h1M377.5 839v2M378 841.5h1M379 842.5h1M380 843.5h1M381.5 844v2M382 846.5h1M383 847.5h1M384.5 845v2M385 844.5h1M386 843.5h1M387.5 841v2M388 840.5h1M389 839.5h1M390.5 837v2M391 836.5h5M396 835.5h14M410 836.5h4M414 837.5h12M426 836.5h4M430 835.5h4M434 834.5h4M438 833.5h2M440 832.5h1M441 831.5h1M442 830.5h1M443 829.5h1M444 828.5h1M445 827.5h1M446 826.5h1M447 825.5h1M448 826.5h1M449 827.5h1M450 828.5h1M451.5 829v2M452 831.5h1M453 832.5h1M454 833.5h1M455 834.5h13M468 835.5h6M474 834.5h4M478 833.5h2M480 832.5h1M481 831.5h1M482 830.5h1M483.5 828v2M484 827.5h1M485 826.5h1M486 825.5h1M487 824.5h1M488 825.5h1M489 826.5h1M490 827.5h2M492 828.5h1M493 829.5h1M494 830.5h1M495 831.5h1M496.5 832v2M497 834.5h1M498 835.5h1M499.5 836v2M500 838.5h1M501 839.5h1M502.5 840v2M503 842.5h1M504 843.5h1M505 844.5h1M506 845.5h1M507 846.5h1M508 847.5h1M509 848.5h1M510 849.5h1M511 850.5h3M514 849.5h4M518 848.5h4M522 849.5h4M526 850.5h4M530 851.5h4M534 852.5h2M536 851.5h1M537 850.5h1M538 849.5h1M539 848.5h1M540 847.5h1M541 846.5h1M542 845.5h1M543 844.5h1M544 843.5h1M545 842.5h1M546 841.5h2M548 840.5h1M549 839.5h1M550 838.5h1M551 837.5h3M554 838.5h4M558 839.5h2M559 840.5h1M560.5 841v2M561.5 843v2M562.5 845v3M563.5 848v2M564.5 850v3M565.5 853v2M566.5 855v2M567.5 857v2M567 857.5h1M568.5 855v2M569.5 853v2M570.5 851v2M571.5 848v3M572.5 846v2M573.5 844v2M574.5 842v2M575.5 840v2M576 840.5h4M580 839.5h4M584 840.5h2M586 841.5h1M587 842.5h1M588 843.5h2M590 844.5h1M591 845.5h1M592 846.5h1M593 847.5h1M594 848.5h2M596 849.5h1M597 850.5h1M598 851.5h1M599 852.5h3M602 853.5h4M606 854.5h2M608 853.5h1M609 852.5h1M610 851.5h2M612 850.5h1M613 849.5h1M614 848.5h1M615 847.5h1M616 846.5h2M618 845.5h1M619 844.5h1M620 843.5h2M622 842.5h1M623 841.5h5M628 840.5h4M632 839.5h1M633 838.5h1M634 837.5h1M635.5 835v2M636 834.5h1M637 833.5h1M638 832.5h1M639 831.5h5M644 832.5h6M650 831.5h4M654 830.5h2M656 831.5h2M658 832.5h1M659 833.5h1M660 834.5h2M662 835.5h1M663 836.5h5M668 835.5h4M672 834.5h1M673.5 832v2M674 831.5h1M675 830.5h1M676 829.5h1M677.5 827v2M678 826.5h1M679 825.5h1M680 824.5h2M682 823.5h2M684 822.5h1M685 821.5h2M687 820.5h1M688 819.5h2M690 818.5h1M691 817.5h1M692 816.5h2M694 815.5h1M695 814.5h1M696 815.5h2M698 816.5h2M700 817.5h1M701 818.5h2M703.5 819v2M704.5 821v2M705.5 823v2M706.5 825v2M707.5 827v3M708.5 830v2M709.5 832v2M710.5 834v2M711.5 836v2M712 837.5h2M714 836.5h4M718 835.5h2M720.5 836v2M721 838.5h1M722.5 839v2M723 841.5h1M724.5 842v2M725 844.5h1M726.5 845v2M727 847.5h1M728 848.5h1M729.5 849v2M730 851.5h1M731 852.5h1M732 853.5h1M733.5 854v2M734 856.5h1M735.5 857v2M736.5 859v3M737.5 862v2M738.5 864v3M739.5 867v3M740.5 870v3M741.5 873v2M742.5 875v3M743.5 878v2M744 879.5h8M752 878.5h1M753 877.5h1M754 876.5h1M755 875.5h1M756 874.5h1M757 873.5h1M758 872.5h1M759 871.5h1M760 872.5h2M762 873.5h1M763 874.5h1M764 875.5h2M766 876.5h1M767 877.5h1M768.5 875v2M769.5 873v2M770.5 871v2M771.5 869v2M772.5 867v2M773.5 865v2M774.5 863v2M775 862.5h1M776 863.5h2M778 864.5h1M779 865.5h1M780 866.5h2M782 867.5h1M783 868.5h2M785 869.5h2M787 870.5h2M789 871.5h2M791 872.5h2M793 873.5h3M796 874.5h2M798 875.5h2M800 876.5h2M802 877.5h1M803 878.5h1M804 879.5h2M806 880.5h1M807 881.5h1M808 880.5h1M809 879.5h1M810 878.5h1M811.5 876v2M812 875.5h1M813 874.5h1M814 873.5h1M815 872.5h1M816 873.5h2M818 874.5h1M819 875.5h1M820 876.5h2M822 877.5h1M823 878.5h1M824 879.5h1M825 880.5h1M826 881.5h1M827.5 882v2M828 884.5h1M829 885.5h1M830 886.5h1M831 887.5h1M832.5 885v2M833.5 883v2M834.5 881v2M835 880.5h1M836.5 878v2M837.5 876v2M838.5 874v2M839 873.5h2M841 874.5h2M843 875.5h2M845 876.5h2M847 877.5h1M848 878.5h2M850 879.5h1M851 880.5h1M852 881.5h2M854 882.5h1M855 883.5h9M864 884.5h1M865.5 885v2M866 887.5h1M867 888.5h1M868 889.5h1M869.5 890v2M870 892.5h1M871.5 892v2M872.5 890v2M873.5 888v2M874.5 886v2M875.5 884v2M876.5 882v2M877.5 880v2M878.5 878v2M879 877.5h1M880 876.5h2M882 875.5h2M884 874.5h1M885 873.5h2M887 872.5h3M890 873.5h4M894 874.5h4M898 873.5h4M902 872.5h2M903 871.5h1M904.5 869v2M905.5 867v2M906.5 865v2M907.5 863v2M908.5 861v2M909.5 859v2M910.5 857v2M911.5 855v2M912 855.5h2M914 854.5h4M918 853.5h2M920 852.5h1M921.5 850v2M922 849.5h1M923 848.5h1M924 847.5h1M925.5 845v2M926 844.5h1M927 843.5h1M928 842.5h1M929 841.5h1M930 840.5h1M931 839.5h1M932 838.5h1M933 837.5h1M934 836.5h1M935 835.5h2M937 836.5h2M939 837.5h2M941 838.5h2M943 839.5h5M948 840.5h8M956 841.5h5M961 842.5h2M963 843.5h2M965 844.5h2M967 845.5h1M968 844.5h1M969 843.5h1M970 842.5h2M972 841.5h1M973 840.5h1M974 839.5h1M975 838.5h1M976 839.5h2M978 840.5h1M979 841.5h1M980 842.5h2M982 843.5h1M983 844.5h10M993 843.5h2M995 842.5h2M997 841.5h2M999 840.5h2M1001 839.5h2M1003 838.5h2M1005 837.5h2M1007 836.5h1M1008 835.5h2M1010 834.5h1M1011 833.5h1M1012 832.5h2M1014 831.5h1M1015 830.5h19M1034 831.5h4M1038 832.5h3M1041 831.5h2M1043 830.5h2M1045 829.5h2M1047 828.5h1M1048 829.5h2M1050 830.5h2M1052 831.5h1M1053 832.5h2M1055 833.5h10M1065 834.5h2M1067 835.5h2M1069 836.5h2M1071 837.5h5M1076 836.5h4M1080 837.5h2M1082 838.5h1M1083 839.5h1M1084 840.5h2M1086 841.5h1M1087 842.5h1M1088.5 843v2M1089.5 845v2M1090 847.5h1M1091.5 848v2M1092 850.5h1M1093.5 851v2M1094.5 853v2M1095 855.5h2M1097 854.5h2M1099 853.5h2M1101 852.5h2M1103 851.5h3M1106 850.5h4M1110 849.5h3M1113 850.5h3M1116 851.5h2M1118 852.5h3M1121 851.5h3M1124 850.5h2M1126 849.5h3M1129 848.5h2M1131 847.5h2M1133 846.5h2M1135 845.5h1M1136 846.5h2M1138 847.5h2M1140 848.5h1M1141 849.5h2M1143 850.5h3M1146 849.5h4M1150 848.5h2M1151 847.5h1M1152.5 844v3M1153.5 842v2M1154.5 839v3M1155.5 836v3M1156.5 833v3M1157.5 831v2M1158.5 828v3M1159.5 826v2M1159 827.5h1M1160.5 828v2M1161.5 830v2M1162.5 832v2M1163.5 834v2M1164.5 836v2M1165.5 838v2M1166.5 840v2M1167 842.5h2M1169 843.5h2M1171 844.5h2M1173 845.5h2M1175 846.5h3M1178 847.5h4M1182 848.5h4M1186 849.5h4M1190 850.5h2M1192.5 851v2M1193.5 853v2M1194 855.5h1M1195.5 856v2M1196 858.5h1M1197.5 859v2M1198.5 861v2M1199 863.5h1M1200 862.5h1M1201 861.5h1M1202 860.5h1M1203 859.5h1M1204 858.5h1M1205 857.5h1M1206 856.5h1M1207 855.5h1M1208 854.5h1M1209 853.5h1M1210 852.5h1M1211 851.5h1M1212 850.5h1M1213 849.5h1M1214 848.5h1M1215 847.5h2M1217 846.5h2M1219 845.5h2M1221 844.5h2M1223 843.5h5M1228 844.5h4M1232.5 845v2M1233 847.5h1M1234 848.5h1M1235.5 849v2M1236 851.5h1M1237 852.5h1M1238.5 853v2M1239 855.5h2M1241 856.5h2M1243 857.5h2M1245 858.5h2M1247 859.5h1M1248 858.5h2M1250 857.5h1M1251 856.5h1M1252 855.5h2M1254 854.5h1M1255 853.5h1M1256 854.5h1M1257 855.5h1M1258 856.5h1M1259.5 857v2M1260 859.5h1M1261 860.5h1M1262 861.5h1M1263 862.5h2M1265 863.5h2M1267 864.5h2M1269 865.5h2M1271.5 865v2M1272.5 863v2M1273.5 861v2M1274.5 859v2M1275.5 857v2M1276.5 855v2M1277.5 853v2M1278.5 851v2M1279 850.5h1M1280.5 848v2M1281 847.5h1M1282 846.5h1M1283.5 844v2M1284 843.5h1M1285 842.5h1M1286.5 840v2M1287 839.5h1M1288 840.5h2M1290 841.5h2M1292 842.5h1M1293 843.5h2M1295 844.5h5M1300 845.5h4M1304 846.5h2M1306 847.5h2M1308 848.5h1M1309 849.5h2M1311 850.5h2M1313 849.5h2M1315 848.5h2M1317 847.5h2M1319 846.5h5M1324 845.5h4M1328.5 843v2M1329 842.5h1M1330 841.5h1M1331.5 839v2M1332 838.5h1M1333 837.5h1M1334.5 835v2M1335 834.5h2M1337 835.5h3M1340 836.5h2M1342 837.5h3M1345 836.5h3M1348 835.5h2M1350 834.5h3M1353 833.5h3M1356 832.5h2M1358 831.5h6M1364 830.5h4M1368.5 828v2M1369 827.5h1M1370.5 825v2M1371 824.5h1M1372.5 822v2M1373 821.5h1M1374.5 819v2M1375.5 817v2M1376.5 815v2M1377.5 813v2M1378.5 811v2M1379.5 809v2M1380.5 807v2M1381.5 805v2M1382.5 803v2M1383 802.5h8" stroke="#1e90ff" stroke-width="1" fill="none"/>
</g>
<text x="-6" y="765" font-size="9.6" fill="#000" textLength="69" lengthAdjust="spacingAndGlyphs" stroke="#000" stroke-width="0.14">RSI(14) 71.6421</text>
<text x="1633.3" y="762.8000000000001" font-size="9.7" fill="#000" textLength="14.9" lengthAdjust="spacingAndGlyphs" stroke="#000" stroke-width="0.14">100</text>
<text x="1633.3" y="791.4" font-size="9.7" fill="#000" textLength="9.9" lengthAdjust="spacingAndGlyphs" stroke="#000" stroke-width="0.14">80</text>
<text x="1633.3" y="842.4" font-size="9.7" fill="#000" textLength="9.9" lengthAdjust="spacingAndGlyphs" stroke="#000" stroke-width="0.14">50</text>
<text x="1633.3" y="903.6" font-size="9.7" fill="#000" textLength="9.9" lengthAdjust="spacingAndGlyphs" stroke="#000" stroke-width="0.14">15</text>
<text x="1633.3" y="923.0" font-size="9.7" fill="#000" textLength="5" lengthAdjust="spacingAndGlyphs" stroke="#000" stroke-width="0.14">0</text>
<g shape-rendering="crispEdges">
<rect x="55" y="927" width="1" height="3" fill="#000"/>
<rect x="119" y="927" width="1" height="3" fill="#000"/>
<rect x="183" y="927" width="1" height="3" fill="#000"/>
<rect x="247" y="927" width="1" height="3" fill="#000"/>
<rect x="311" y="927" width="1" height="3" fill="#000"/>
<rect x="375" y="927" width="1" height="3" fill="#000"/>
<rect x="439" y="927" width="1" height="3" fill="#000"/>
<rect x="503" y="927" width="1" height="3" fill="#000"/>
<rect x="567" y="927" width="1" height="3" fill="#000"/>
<rect x="631" y="927" width="1" height="3" fill="#000"/>
<rect x="695" y="927" width="1" height="3" fill="#000"/>
<rect x="759" y="927" width="1" height="3" fill="#000"/>
<rect x="823" y="927" width="1" height="3" fill="#000"/>
<rect x="887" y="927" width="1" height="3" fill="#000"/>
<rect x="951" y="927" width="1" height="3" fill="#000"/>
<rect x="1015" y="927" width="1" height="3" fill="#000"/>
<rect x="1079" y="927" width="1" height="3" fill="#000"/>
<rect x="1143" y="927" width="1" height="3" fill="#000"/>
<rect x="1207" y="927" width="1" height="3" fill="#000"/>
<rect x="1271" y="927" width="1" height="3" fill="#000"/>
<rect x="1335" y="927" width="1" height="3" fill="#000"/>
</g>
<text x="-9.5" y="939.4" font-size="9.4" fill="#000" stroke="#000" stroke-width="0.14">11 Nov 2019</text>
<text x="54.5" y="939.4" font-size="9.4" fill="#000" stroke="#000" stroke-width="0.14">20 Nov 2019</text>
<text x="118.5" y="939.4" font-size="9.4" fill="#000" stroke="#000" stroke-width="0.14">29 Nov 2019</text>
<text x="182.5" y="939.4" font-size="9.4" fill="#000" stroke="#000" stroke-width="0.14">9 Dec 2019</text>
<text x="246.5" y="939.4" font-size="9.4" fill="#000" stroke="#000" stroke-width="0.14">18 Dec 2019</text>
<text x="310.5" y="939.4" font-size="9.4" fill="#000" stroke="#000" stroke-width="0.14">27 Dec 2019</text>
<text x="374.5" y="939.4" font-size="9.4" fill="#000" stroke="#000" stroke-width="0.14">6 Jan 2020</text>
<text x="438.5" y="939.4" font-size="9.4" fill="#000" stroke="#000" stroke-width="0.14">15 Jan 2020</text>
<text x="502.5" y="939.4" font-size="9.4" fill="#000" stroke="#000" stroke-width="0.14">24 Jan 2020</text>
<text x="566.5" y="939.4" font-size="9.4" fill="#000" stroke="#000" stroke-width="0.14">3 Feb 2020</text>
<text x="630.5" y="939.4" font-size="9.4" fill="#000" stroke="#000" stroke-width="0.14">12 Feb 2020</text>
<text x="694.5" y="939.4" font-size="9.4" fill="#000" stroke="#000" stroke-width="0.14">21 Feb 2020</text>
<text x="758.5" y="939.4" font-size="9.4" fill="#000" stroke="#000" stroke-width="0.14">2 Mar 2020</text>
<text x="822.5" y="939.4" font-size="9.4" fill="#000" stroke="#000" stroke-width="0.14">11 Mar 2020</text>
<text x="886.5" y="939.4" font-size="9.4" fill="#000" stroke="#000" stroke-width="0.14">20 Mar 2020</text>
<text x="950.5" y="939.4" font-size="9.4" fill="#000" stroke="#000" stroke-width="0.14">30 Mar 2020</text>
<text x="1014.5" y="939.4" font-size="9.4" fill="#000" stroke="#000" stroke-width="0.14">8 Apr 2020</text>
<text x="1078.5" y="939.4" font-size="9.4" fill="#000" stroke="#000" stroke-width="0.14">19 Apr 2020</text>
<text x="1142.5" y="939.4" font-size="9.4" fill="#000" stroke="#000" stroke-width="0.14">28 Apr 2020</text>
<text x="1206.5" y="939.4" font-size="9.4" fill="#000" stroke="#000" stroke-width="0.14">7 May 2020</text>
<text x="1270.5" y="939.4" font-size="9.4" fill="#000" stroke="#000" stroke-width="0.14">17 May 2020</text>
<text x="1334.5" y="939.4" font-size="9.4" fill="#000" stroke="#000" stroke-width="0.14">26 May 2020</text>
<defs><linearGradient id="gGreen" x1="0" y1="0" x2="1" y2="1"><stop offset="0" stop-color="#7af07a"/><stop offset="1" stop-color="#10a010"/></linearGradient><linearGradient id="gGold" x1="0" y1="0" x2="1" y2="1"><stop offset="0" stop-color="#f8dc50"/><stop offset="0.6" stop-color="#e0a818"/><stop offset="1" stop-color="#a87008"/></linearGradient><linearGradient id="gBlue" x1="0" y1="0" x2="0" y2="1"><stop offset="0" stop-color="#50b8f8"/><stop offset="1" stop-color="#1070d8"/></linearGradient><linearGradient id="gCloud" x1="0" y1="0" x2="0" y2="1"><stop offset="0" stop-color="#ffffff"/><stop offset="1" stop-color="#b8c8e8"/></linearGradient><linearGradient id="gClock" x1="0" y1="0" x2="0" y2="1"><stop offset="0" stop-color="#3a98e8"/><stop offset="1" stop-color="#0a50a8"/></linearGradient><radialGradient id="gLens" cx="0.4" cy="0.35" r="0.7"><stop offset="0" stop-color="#f0f8ff"/><stop offset="1" stop-color="#b0d8f4"/></radialGradient><linearGradient id="gTileG" x1="0" y1="0" x2="0" y2="1"><stop offset="0" stop-color="#2c9010"/><stop offset="1" stop-color="#58b830"/></linearGradient><linearGradient id="gTileB" x1="0" y1="0" x2="0" y2="1"><stop offset="0" stop-color="#1038c0"/><stop offset="1" stop-color="#4880e8"/></linearGradient></defs>
<g shape-rendering="crispEdges">
<rect x="0" y="0" width="1676" height="21" fill="#f0f0f0"/>
<rect x="0" y="20" width="1676" height="1" fill="#f5f5f5"/><rect x="0" y="21" width="1676" height="1" fill="#b2b2b2"/>
<rect x="0" y="22" width="1676" height="1" fill="#707070"/>
<rect x="265" y="0" width="24" height="19" fill="#f9f9f9"/>
<rect x="417" y="0" width="25" height="19" fill="#f9f9f9"/>
<rect x="445" y="0" width="24" height="19" fill="#f9f9f9"/>
<rect x="605" y="0" width="25" height="19" fill="#f9f9f9"/>
<rect x="1079" y="0" width="24" height="19" fill="#f9f9f9"/>
<rect x="264" y="0" width="1" height="19" fill="#a0a0a0"/>
<rect x="321" y="0" width="1" height="19" fill="#a0a0a0"/>
<rect x="411" y="0" width="1" height="19" fill="#a0a0a0"/>
<rect x="416" y="0" width="1" height="19" fill="#a0a0a0"/>
<rect x="444" y="0" width="1" height="19" fill="#a0a0a0"/>
<rect x="473" y="0" width="1" height="19" fill="#a0a0a0"/>
<rect x="604" y="0" width="1" height="19" fill="#a0a0a0"/>
<rect x="661" y="0" width="1" height="19" fill="#a0a0a0"/>
<rect x="1078" y="0" width="1" height="19" fill="#a0a0a0"/>
<rect x="226" y="0" width="1" height="21" fill="#a0a0a0"/>
<rect x="227" y="0" width="1" height="21" fill="#fbfbfb"/>
<rect x="594" y="0" width="1" height="21" fill="#a0a0a0"/>
<rect x="595" y="0" width="1" height="21" fill="#fbfbfb"/>
<rect x="900" y="0" width="1" height="21" fill="#a0a0a0"/>
<rect x="901" y="0" width="1" height="21" fill="#fbfbfb"/>
<rect x="1161" y="0" width="1" height="21" fill="#a0a0a0"/>
<rect x="1162" y="0" width="1" height="21" fill="#fbfbfb"/>
<rect x="230" y="1" width="3" height="1" fill="#b0b0b0"/>
<rect x="230" y="3" width="3" height="1" fill="#b0b0b0"/>
<rect x="230" y="5" width="3" height="1" fill="#b0b0b0"/>
<rect x="230" y="7" width="3" height="1" fill="#b0b0b0"/>
<rect x="230" y="9" width="3" height="1" fill="#b0b0b0"/>
<rect x="230" y="11" width="3" height="1" fill="#b0b0b0"/>
<rect x="230" y="13" width="3" height="1" fill="#b0b0b0"/>
<rect x="230" y="15" width="3" height="1" fill="#b0b0b0"/>
<rect x="230" y="17" width="3" height="1" fill="#b0b0b0"/>
<rect x="598" y="1" width="3" height="1" fill="#b0b0b0"/>
<rect x="598" y="3" width="3" height="1" fill="#b0b0b0"/>
<rect x="598" y="5" width="3" height="1" fill="#b0b0b0"/>
<rect x="598" y="7" width="3" height="1" fill="#b0b0b0"/>
<rect x="598" y="9" width="3" height="1" fill="#b0b0b0"/>
<rect x="598" y="11" width="3" height="1" fill="#b0b0b0"/>
<rect x="598" y="13" width="3" height="1" fill="#b0b0b0"/>
<rect x="598" y="15" width="3" height="1" fill="#b0b0b0"/>
<rect x="598" y="17" width="3" height="1" fill="#b0b0b0"/>
<rect x="904" y="1" width="3" height="1" fill="#b0b0b0"/>
<rect x="904" y="3" width="3" height="1" fill="#b0b0b0"/>
<rect x="904" y="5" width="3" height="1" fill="#b0b0b0"/>
<rect x="904" y="7" width="3" height="1" fill="#b0b0b0"/>
<rect x="904" y="9" width="3" height="1" fill="#b0b0b0"/>
<rect x="904" y="11" width="3" height="1" fill="#b0b0b0"/>
<rect x="904" y="13" width="3" height="1" fill="#b0b0b0"/>
<rect x="904" y="15" width="3" height="1" fill="#b0b0b0"/>
<rect x="904" y="17" width="3" height="1" fill="#b0b0b0"/>
</g>
<path d="M0.5,2.5 h8 l3.5,3.5 v7.5 h-11.5 z" fill="#fff" stroke="#8a8a8a" stroke-width="1"/><path d="M8.5,2.5 v3.5 h3.5" fill="#e8e8e8" stroke="#8a8a8a" stroke-width="1"/>
<rect x="2" y="4" width="4" height="1" fill="#909090"/><rect x="2" y="7" width="6" height="1" fill="#a0a0a0"/><rect x="2" y="9" width="4" height="1" fill="#a0a0a0"/>
<path d="M7.95,7.5 h3.6 v3.95 h3.95 v3.6 h-3.95 v3.95 h-3.6 v-3.95 h-3.95 v-3.6 h3.95 z" fill="url(#gGreen)" stroke="#0c8c0c" stroke-width="0.9" stroke-linejoin="miter"/>
<text x="19" y="12.3" font-size="12" fill="#000" textLength="36.2" lengthAdjust="spacingAndGlyphs" font-family="'Liberation Sans', 'Noto Sans CJK SC', sans-serif">新订单</text>
<text x="170.5" y="12.3" font-size="12" fill="#000" textLength="48.3" lengthAdjust="spacingAndGlyphs" font-family="'Liberation Sans', 'Noto Sans CJK SC', sans-serif">自动交易</text>
<path d="M72.3,2.3 L83,10 L74.5,16.2 Q69,14 66.8,10.6 Q70,6 72.3,2.3 Z" fill="url(#gGold)" stroke="#a06c08" stroke-width="1" stroke-linejoin="round"/>
<path d="M66.8,10.6 Q69,14 74.5,16.2 L83,10 L82.8,11.2 L74.6,17.4 Q69,15.4 67,12 Z" fill="#c89018" stroke="#8a5c04" stroke-width="0.5"/>
<path d="M97.6,2.6 L100.8,1.2 L108.2,1.6 L108.2,10.6 L100.8,11.6 L97.6,10.6 Z" fill="url(#gBlue)" stroke="#2888e0" stroke-width="0.7"/>
<path d="M97.6,2.6 L100.8,3.6 L100.8,11.6 L97.6,10.6 Z" fill="#b4e4ff"/>
<path d="M97.6,2.6 L100.8,1.2 L108.2,1.6 L100.8,3.6 Z" fill="#8cd0fc"/>
<rect x="102.6" y="4.6" width="4.2" height="1.4" fill="#e4f2ff"/><rect x="102.6" y="7" width="2.4" height="1" fill="#c4e2fc"/>
<path d="M97.6,16.4 a2.7,2.7 0 0 1 0.3,-5.3 a3.3,3.3 0 0 1 5.8,-1.7 a2.9,2.9 0 0 1 4.5,2.1 a2.5,2.5 0 0 1 0.1,4.9 z" fill="url(#gCloud)" stroke="#6c88c4" stroke-width="0.9"/>
<circle cx="130.9" cy="9" r="7.9" fill="#e4ece4"/>
<path d="M130.9,9 L130.9,16.9 A7.9,7.9 0 0 0 138.3,11.8 Z" fill="#78bc80"/>
<g fill="none"><circle cx="130.9" cy="9" r="7.6" stroke="#b4c8b8" stroke-width="0.9"/><circle cx="130.9" cy="9" r="5.2" stroke="#a8c4ac" stroke-width="0.9"/><circle cx="130.9" cy="9" r="2.9" stroke="#98bc9c" stroke-width="0.9"/><path d="M130.9,1.4 a7.6,7.6 0 0 0 -1.5,15.05" stroke="#90a8e0" stroke-width="1.1"/><path d="M130.9,3.8 a5.2,5.2 0 0 0 -1,10.3" stroke="#5c84d8" stroke-width="1.2"/><path d="M130.9,6.1 a2.9,2.9 0 0 0 -0.5,5.75" stroke="#3868c8" stroke-width="1.2"/></g>
<circle cx="130.8" cy="8.8" r="1.6" fill="#2858c8"/>
<rect x="130.4" y="9.6" width="1.4" height="7.2" fill="#18a018"/>
<path d="M151.5,8 L165.5,8 L158.5,16.8 Z" fill="#f8d840" stroke="#c09010" stroke-width="0.8" stroke-linejoin="round"/>
<ellipse cx="158.3" cy="6.2" rx="7.8" ry="2.6" fill="#4898d8" stroke="#2868a8" stroke-width="0.7"/>
<path d="M154,5.5 Q154.5,1.2 158.3,1.2 Q162,1.2 162.6,5.5 Z" fill="#68b4e8" stroke="#2868a8" stroke-width="0.7"/>
<circle cx="162.4" cy="12.6" r="4.1" fill="#e02010" stroke="#b01008" stroke-width="0.6"/>
<rect x="160.7" y="10.9" width="3.4" height="3.4" fill="#fff"/>
<g shape-rendering="crispEdges" fill="#505050"><rect x="244" y="3" width="1" height="14"/><rect x="242" y="14" width="15" height="1"/><rect x="243" y="4" width="3" height="1"/><rect x="243" y="5" width="1" height="1" fill="#8c8c8c"/><rect x="245" y="5" width="1" height="1" fill="#8c8c8c"/><rect x="255" y="13" width="1" height="3"/><rect x="254" y="13" width="1" height="1" fill="#8c8c8c"/><rect x="254" y="15" width="1" height="1" fill="#8c8c8c"/></g>
<g shape-rendering="crispEdges" fill="#1e9a1e"><rect x="250" y="5" width="2" height="8"/><rect x="251" y="5" width="3" height="1"/><rect x="248" y="11" width="3" height="1"/></g>
<g shape-rendering="crispEdges" fill="#505050"><rect x="272" y="3" width="1" height="14"/><rect x="270" y="14" width="15" height="1"/><rect x="271" y="4" width="3" height="1"/><rect x="271" y="5" width="1" height="1" fill="#8c8c8c"/><rect x="273" y="5" width="1" height="1" fill="#8c8c8c"/><rect x="283" y="13" width="1" height="3"/><rect x="282" y="13" width="1" height="1" fill="#8c8c8c"/><rect x="282" y="15" width="1" height="1" fill="#8c8c8c"/></g>
<g shape-rendering="crispEdges"><rect x="278" y="1" width="1" height="12" fill="#109010"/><rect x="276" y="3" width="5" height="8" fill="#109010"/><rect x="277" y="4" width="3" height="6" fill="#48e048"/></g>
<g shape-rendering="crispEdges" fill="#505050"><rect x="300" y="3" width="1" height="14"/><rect x="298" y="14" width="15" height="1"/><rect x="299" y="4" width="3" height="1"/><rect x="299" y="5" width="1" height="1" fill="#8c8c8c"/><rect x="301" y="5" width="1" height="1" fill="#8c8c8c"/><rect x="311" y="13" width="1" height="3"/><rect x="310" y="13" width="1" height="1" fill="#8c8c8c"/><rect x="310" y="15" width="1" height="1" fill="#8c8c8c"/></g>
<path d="M299,11.5 C302,10 303,6.2 305.3,6.2 C307.5,6.2 308.5,9 310.6,10" fill="none" stroke="#1e9a1e" stroke-width="1.2"/>
<line x1="340" y1="11" x2="345" y2="15.6" stroke="#b08818" stroke-width="3.2" stroke-linecap="round"/><line x1="340" y1="11" x2="345" y2="15.6" stroke="#f0d050" stroke-width="1.6" stroke-linecap="round"/><circle cx="336" cy="7" r="5.3" fill="url(#gLens)" stroke="#3878d0" stroke-width="1.3"/><rect x="333" y="6.2" width="6" height="1.6" fill="#3a88b8"/><rect x="335.2" y="4" width="1.6" height="6" fill="#3a88b8"/>
<line x1="368" y1="11" x2="373" y2="15.6" stroke="#b08818" stroke-width="3.2" stroke-linecap="round"/><line x1="368" y1="11" x2="373" y2="15.6" stroke="#f0d050" stroke-width="1.6" stroke-linecap="round"/><circle cx="364" cy="7" r="5.3" fill="url(#gLens)" stroke="#3878d0" stroke-width="1.3"/><rect x="361" y="6.2" width="6" height="1.6" fill="#3a88b8"/>
<rect x="386" y="1" width="8" height="8" fill="url(#gTileG)"/>
<path d="M387.5,4 h5 v3.8 h-1 v-1.2 h-3 v1.2 h-1 z" fill="#fff" opacity="0.92"/>
<rect x="387" y="2" width="1" height="1" fill="#fff" opacity="0.8"/>
<rect x="394" y="1" width="8" height="8" fill="url(#gTileB)"/>
<path d="M395.5,4 h5 v3.8 h-1 v-1.2 h-3 v1.2 h-1 z" fill="#fff" opacity="0.92"/>
<rect x="395" y="2" width="1" height="1" fill="#fff" opacity="0.8"/>
<rect x="386" y="9" width="8" height="8" fill="url(#gTileB)"/>
<path d="M387.5,12 h5 v3.8 h-1 v-1.2 h-3 v1.2 h-1 z" fill="#fff" opacity="0.92"/>
<rect x="387" y="10" width="1" height="1" fill="#fff" opacity="0.8"/>
<rect x="394" y="9" width="8" height="8" fill="url(#gTileG)"/>
<path d="M395.5,12 h5 v3.8 h-1 v-1.2 h-3 v1.2 h-1 z" fill="#fff" opacity="0.92"/>
<rect x="395" y="10" width="1" height="1" fill="#fff" opacity="0.8"/>
<g shape-rendering="crispEdges" fill="#505050"><rect x="424" y="3" width="1" height="14"/><rect x="422" y="14" width="15" height="1"/><rect x="423" y="4" width="3" height="1"/><rect x="423" y="5" width="1" height="1" fill="#8c8c8c"/><rect x="425" y="5" width="1" height="1" fill="#8c8c8c"/><rect x="435" y="13" width="1" height="3"/><rect x="434" y="13" width="1" height="1" fill="#8c8c8c"/><rect x="434" y="15" width="1" height="1" fill="#8c8c8c"/></g>
<path d="M429.5,4.5 L433.5,8.3 L429.5,12 Z" fill="#58d858" stroke="#109010" stroke-width="1" stroke-linejoin="round"/>
<g shape-rendering="crispEdges" fill="#505050"><rect x="452" y="3" width="1" height="14"/><rect x="450" y="14" width="15" height="1"/><rect x="451" y="4" width="3" height="1"/><rect x="451" y="5" width="1" height="1" fill="#8c8c8c"/><rect x="453" y="5" width="1" height="1" fill="#8c8c8c"/><rect x="463" y="13" width="1" height="3"/><rect x="462" y="13" width="1" height="1" fill="#8c8c8c"/><rect x="462" y="15" width="1" height="1" fill="#8c8c8c"/></g>
<rect x="458" y="3" width="1.3" height="10" fill="#1868a8"/>
<path d="M459.5,8.3 L464.5,8.3 M459.5,8.3 L462.3,5.6 M459.5,8.3 L462.3,11" stroke="#e04808" stroke-width="1.2" fill="none"/>
<path d="M483.5,2.0 h8 l3.5,3.5 v8.5 h-11.5 z" fill="#fff" stroke="#8a8a8a" stroke-width="1"/><path d="M491.5,2.0 v3.5 h3.5" fill="#e8e8e8" stroke="#8a8a8a" stroke-width="1"/>
<path d="M488,4 q-1.5,0 -1.5,1.5 v1.5 q0,1 -1,1 q1,0 1,1 v1.5 q0,1.5 1.5,1.5" fill="none" stroke="#605040" stroke-width="0.9"/>
<path d="M491.35,7.3 h3.6 v3.8500000000000005 h3.8500000000000005 v3.6 h-3.8500000000000005 v3.8500000000000005 h-3.6 v-3.8500000000000005 h-3.8500000000000005 v-3.6 h3.8500000000000005 z" fill="url(#gGreen)" stroke="#0c8c0c" stroke-width="0.9" stroke-linejoin="miter"/>
<polygon points="504.8,8 510.40000000000003,8 507.6,11.2" fill="#000"/>
<circle cx="528.9" cy="8.9" r="6.5" fill="#fff" stroke="url(#gClock)" stroke-width="3.1"/>
<circle cx="528.9" cy="8.9" r="4.1" fill="none" stroke="#b0b8c4" stroke-width="0.9" stroke-dasharray="0.7 1.45"/>
<path d="M528.6,6 L528.6,8.9 L530.8,8.9" fill="none" stroke="#202020" stroke-width="1.2"/>
<polygon points="544,8 549.6,8 546.8,11.2" fill="#000"/>
<rect x="560.5" y="2.5" width="15" height="13" fill="#fff" stroke="#3878d0" stroke-width="1"/>
<rect x="561" y="3" width="14" height="2" fill="#4890e0"/>
<rect x="561" y="9.5" width="14" height="1" fill="#3878d0"/>
<path d="M562.5,8.3 L565,7.6 L566.5,6.6 L568.5,7.5 L571,7 L573.5,6.2" fill="none" stroke="#a82010" stroke-width="1.1"/>
<path d="M562.5,13.6 L565,12.8 L567,13.6 L570,11.6 L572,12.8 L573.5,13.4" fill="none" stroke="#189030" stroke-width="1.1"/>
<polygon points="583,8 588.6,8 585.8,11.2" fill="#000"/>
<path d="M612.2,2.2 L612.2,13.2 L614.9,10.9 L617.4,16 L619.2,15.2 L616.8,10.2 L620.2,9.8 Z" fill="#484848"/>
<g shape-rendering="crispEdges" fill="#505050"><rect x="637" y="9" width="6" height="1"/><rect x="646" y="9" width="6" height="1"/><rect x="644" y="2" width="1" height="6"/><rect x="644" y="11" width="1" height="6"/><rect x="644" y="9" width="1" height="1" fill="#909090"/></g>
<g shape-rendering="crispEdges" fill="#505050"><rect x="678" y="3" width="1" height="13"/><rect x="701" y="9" width="12" height="1"/></g>
<line x1="729" y1="15.7" x2="741" y2="3.6" stroke="#505050" stroke-width="1.1"/>
<g stroke="#404040" stroke-width="1.1" fill="none"><line x1="755" y1="10.5" x2="765" y2="2.8"/><line x1="756" y1="14" x2="768.5" y2="4"/><line x1="759.5" y1="15.7" x2="769.5" y2="7.6"/><path d="M757.5,13.5 L760,7.5 L761.5,12 L764,6 L765.5,10 L767,1.5" stroke-width="0.8"/></g>
<text x="765.6" y="17.6" font-size="6.6" font-weight="bold" fill="#303030">E</text>
<g stroke="#505050" stroke-width="1" stroke-dasharray="1 1" shape-rendering="crispEdges"><line x1="784" y1="2.5" x2="797" y2="2.5"/><line x1="784" y1="5.5" x2="797" y2="5.5"/><line x1="784" y1="9.5" x2="797" y2="9.5"/><line x1="784" y1="13.5" x2="793" y2="13.5"/></g>
<text x="794" y="17.6" font-size="6.6" font-weight="bold" fill="#303030">F</text>
<text x="814.7" y="13.7" font-size="11.6" fill="#585858" stroke="#585858" stroke-width="0.15">A</text>
<rect x="841.5" y="3.5" width="11" height="12" fill="none" stroke="#505050" stroke-width="1" stroke-dasharray="1 1" shape-rendering="crispEdges"/>
<text x="843.4" y="13.8" font-size="11" fill="#505050" stroke="#505050" stroke-width="0.3">T</text>
<polygon points="868,6.5 871.5,3 875,6.5 871.5,7.6" fill="#484848"/>
<polygon points="875,12.3 882,12.3 878.5,16 " fill="#484848"/><polygon points="875,12.3 878.5,11 882,12.3" fill="#484848"/>
<path d="M870.5,10.5 L872.5,12.3 L877,7.6" fill="none" stroke="#484848" stroke-width="1.2"/>
<polygon points="888.8,8 894.4,8 891.5999999999999,11.2" fill="#000"/>
<text x="915.6" y="12.7" font-size="9" fill="#404040">M1</text>
<text x="943.6" y="12.7" font-size="9" fill="#404040">M5</text>
<text x="969.4" y="12.7" font-size="9" fill="#404040">M15</text>
<text x="997.3" y="12.7" font-size="9" fill="#404040">M30</text>
<text x="1028" y="12.7" font-size="9" fill="#404040">H1</text>
<text x="1055.3" y="12.7" font-size="9" fill="#404040">H4</text>
<text x="1084.6" y="12.7" font-size="9" fill="#404040">D1</text>
<text x="1112.2" y="12.7" font-size="9" fill="#404040">W1</text>
<text x="1138.6" y="12.7" font-size="9" fill="#404040">MN</text>
<line x1="1628.6" y1="10" x2="1624.2" y2="13.8" stroke="#2858c8" stroke-width="2.4" stroke-linecap="round"/>
<circle cx="1631.6" cy="6.9" r="3.9" fill="#f4f4f8" stroke="#2858c8" stroke-width="1.4"/>
<g stroke="#9a9a9a" stroke-width="0.8"><path d="M1664,12.2 a6.2,5.2 0 1 0 -3.2,-0.3 l-0.2,0.2 h5.2 l1.6,2 l-0.3,-2.3 z" fill="#f4f4f6"/><ellipse cx="1664.2" cy="6.5" rx="6.3" ry="5.1" fill="#f4f4f6"/><path d="M1666.2,11 l1.3,2.2 l0.2,-2.6" fill="#f4f4f6"/><ellipse cx="1655.2" cy="10.5" rx="5" ry="4" fill="#f0f0f2"/><path d="M1652.5,13.6 l0.2,2.2 l1.8,-1.8" fill="#f0f0f2"/></g>
<rect x="1675" y="23" width="1" height="923" fill="#e0e0e0"/>
</svg>
</body></html>
